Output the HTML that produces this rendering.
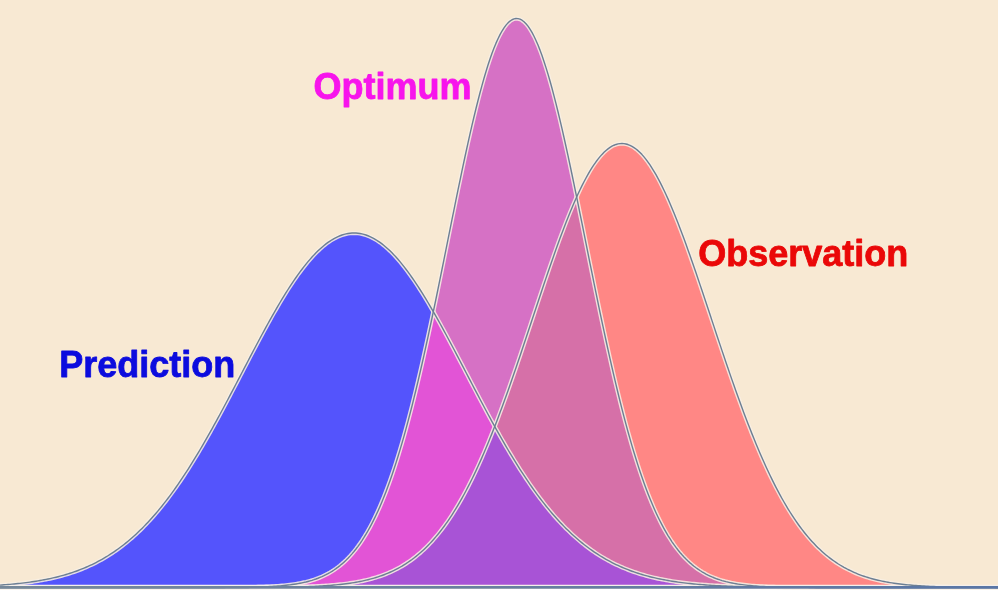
<!DOCTYPE html>
<html lang="en"><head><meta charset="utf-8"><title>Prediction, Optimum, Observation</title>
<style>html,body{margin:0;padding:0;background:#F8E9D3;}body{width:998px;height:592px;overflow:hidden}svg{display:block}</style>
</head><body>
<svg width="998" height="592" viewBox="0 0 998 592">
<rect width="998" height="592" fill="#F8E9D3"/>
<rect y="589" width="998" height="3" fill="#ffffff"/>
<polygon fill="#5454FC" points="-4.0,587.5 -4.0,585.36 -2.0,585.23 0.0,585.10 2.0,584.96 4.0,584.81 6.0,584.66 8.0,584.50 10.0,584.33 12.0,584.15 14.0,583.96 16.0,583.77 18.0,583.56 20.0,583.35 22.0,583.12 24.0,582.88 26.0,582.63 28.0,582.37 30.0,582.10 32.0,581.81 34.0,581.52 36.0,581.20 38.0,580.88 40.0,580.54 42.0,580.18 44.0,579.81 46.0,579.42 48.0,579.01 50.0,578.59 52.0,578.15 54.0,577.69 56.0,577.21 58.0,576.71 60.0,576.19 62.0,575.65 64.0,575.09 66.0,574.50 68.0,573.90 70.0,573.26 72.0,572.61 74.0,571.92 76.0,571.22 78.0,570.48 80.0,569.72 82.0,568.93 84.0,568.11 86.0,567.26 88.0,566.38 90.0,565.46 92.0,564.52 94.0,563.54 96.0,562.53 98.0,561.49 100.0,560.41 102.0,559.30 104.0,558.14 106.0,556.96 108.0,555.73 110.0,554.46 112.0,553.16 114.0,551.81 116.0,550.43 118.0,549.00 120.0,547.53 122.0,546.02 124.0,544.46 126.0,542.86 128.0,541.21 130.0,539.52 132.0,537.79 134.0,536.00 136.0,534.17 138.0,532.30 140.0,530.37 142.0,528.40 144.0,526.38 146.0,524.31 148.0,522.18 150.0,520.01 152.0,517.79 154.0,515.52 156.0,513.20 158.0,510.83 160.0,508.41 162.0,505.94 164.0,503.42 166.0,500.85 168.0,498.22 170.0,495.55 172.0,492.83 174.0,490.06 176.0,487.24 178.0,484.37 180.0,481.45 182.0,478.48 184.0,475.47 186.0,472.41 188.0,469.31 190.0,466.15 192.0,462.96 194.0,459.72 196.0,456.44 198.0,453.12 200.0,449.76 202.0,446.35 204.0,442.92 206.0,439.44 208.0,435.93 210.0,432.38 212.0,428.81 214.0,425.20 216.0,421.56 218.0,417.90 220.0,414.21 222.0,410.49 224.0,406.76 226.0,403.00 228.0,399.23 230.0,395.44 232.0,391.63 234.0,387.82 236.0,383.99 238.0,380.16 240.0,376.32 242.0,372.48 244.0,368.65 246.0,364.81 248.0,360.98 250.0,357.15 252.0,353.34 254.0,349.54 256.0,345.75 258.0,341.98 260.0,338.24 262.0,334.51 264.0,330.82 266.0,327.15 268.0,323.51 270.0,319.91 272.0,316.34 274.0,312.82 276.0,309.34 278.0,305.90 280.0,302.51 282.0,299.18 284.0,295.90 286.0,292.67 288.0,289.50 290.0,286.40 292.0,283.36 294.0,280.39 296.0,277.49 298.0,274.65 300.0,271.90 302.0,269.22 304.0,266.62 306.0,264.11 308.0,261.67 310.0,259.33 312.0,257.07 314.0,254.90 316.0,252.83 318.0,250.85 320.0,248.96 322.0,247.18 324.0,245.49 326.0,243.91 328.0,242.42 330.0,241.05 332.0,239.77 334.0,238.61 336.0,237.55 338.0,236.60 340.0,235.76 342.0,235.03 344.0,234.41 346.0,233.90 348.0,233.51 350.0,233.23 352.0,233.06 354.0,233.00 356.0,233.06 358.0,233.23 360.0,233.51 362.0,233.90 364.0,234.41 366.0,235.03 368.0,235.76 370.0,236.60 372.0,237.55 374.0,238.61 376.0,239.77 378.0,241.05 380.0,242.42 382.0,243.91 384.0,245.49 386.0,247.18 388.0,248.96 390.0,250.85 392.0,252.83 394.0,254.90 396.0,257.07 398.0,259.33 400.0,261.67 402.0,264.11 404.0,266.62 406.0,269.22 408.0,271.90 410.0,274.65 412.0,277.49 414.0,280.39 416.0,283.36 418.0,286.40 420.0,289.50 422.0,292.67 424.0,295.90 426.0,299.18 428.0,302.51 430.0,305.90 432.0,309.34 434.0,312.82 436.0,316.34 438.0,319.91 440.0,323.51 442.0,327.15 444.0,330.82 446.0,334.51 448.0,338.24 450.0,341.98 452.0,345.75 454.0,349.54 456.0,353.34 458.0,357.15 460.0,360.98 462.0,364.81 464.0,368.65 466.0,372.48 468.0,376.32 470.0,380.16 472.0,383.99 474.0,387.82 476.0,391.63 478.0,395.44 480.0,399.23 482.0,403.00 484.0,406.76 486.0,410.49 488.0,414.21 490.0,417.90 492.0,421.56 494.0,425.20 496.0,428.81 498.0,432.38 500.0,435.93 502.0,439.44 504.0,442.92 506.0,446.35 508.0,449.76 510.0,453.12 512.0,456.44 514.0,459.72 516.0,462.96 518.0,466.15 520.0,469.31 522.0,472.41 524.0,475.47 526.0,478.48 528.0,481.45 530.0,484.37 532.0,487.24 534.0,490.06 536.0,492.83 538.0,495.55 540.0,498.22 542.0,500.85 544.0,503.42 546.0,505.94 548.0,508.41 550.0,510.83 552.0,513.20 554.0,515.52 556.0,517.79 558.0,520.01 560.0,522.18 562.0,524.31 564.0,526.38 566.0,528.40 568.0,530.37 570.0,532.30 572.0,534.17 574.0,536.00 576.0,537.79 578.0,539.52 580.0,541.21 582.0,542.86 584.0,544.46 586.0,546.02 588.0,547.53 590.0,549.00 592.0,550.43 594.0,551.81 596.0,553.16 598.0,554.46 600.0,555.73 602.0,556.96 604.0,558.14 606.0,559.30 608.0,560.41 610.0,561.49 612.0,562.53 614.0,563.54 616.0,564.52 618.0,565.46 620.0,566.38 622.0,567.26 624.0,568.11 626.0,568.93 628.0,569.72 630.0,570.48 632.0,571.22 634.0,571.92 636.0,572.61 638.0,573.26 640.0,573.90 642.0,574.50 644.0,575.09 646.0,575.65 648.0,576.19 650.0,576.71 652.0,577.21 654.0,577.69 656.0,578.15 658.0,578.59 660.0,579.01 662.0,579.42 664.0,579.81 666.0,580.18 668.0,580.54 670.0,580.88 672.0,581.20 674.0,581.52 676.0,581.81 678.0,582.10 680.0,582.37 682.0,582.63 684.0,582.88 686.0,583.12 688.0,583.35 690.0,583.56 692.0,583.77 694.0,583.96 696.0,584.15 698.0,584.33 700.0,584.50 702.0,584.66 704.0,584.81 706.0,584.96 708.0,585.10 710.0,585.23 712.0,585.36 714.0,585.48 716.0,585.59 718.0,585.70 720.0,585.80 722.0,585.90 724.0,585.99 726.0,586.07 728.0,586.16 730.0,586.23 732.0,586.31 734.0,586.38 736.0,586.44 738.0,586.51 740.0,586.57 742.0,586.62 744.0,586.67 746.0,586.72 748.0,586.77 750.0,586.82 752.0,586.86 754.0,586.90 756.0,586.93 758.0,586.97 760.0,587.00 762.0,587.03 764.0,587.06 766.0,587.09 768.0,587.12 770.0,587.14 772.0,587.17 774.0,587.19 776.0,587.21 778.0,587.23 780.0,587.24 782.0,587.26 784.0,587.28 786.0,587.29 788.0,587.31 790.0,587.32 792.0,587.33 794.0,587.34 796.0,587.35 798.0,587.36 800.0,587.37 802.0,587.38 804.0,587.39 806.0,587.40 808.0,587.40 810.0,587.41 812.0,587.42 814.0,587.42 816.0,587.43 818.0,587.43 820.0,587.44 822.0,587.44 824.0,587.45 826.0,587.45 828.0,587.45 830.0,587.46 832.0,587.46 834.0,587.46 836.0,587.47 838.0,587.47 840.0,587.47 842.0,587.47 844.0,587.48 846.0,587.48 848.0,587.48 850.0,587.48 852.0,587.48 854.0,587.48 856.0,587.48 858.0,587.49 860.0,587.49 862.0,587.49 864.0,587.49 866.0,587.49 868.0,587.49 870.0,587.49 872.0,587.49 874.0,587.49 876.0,587.49 878.0,587.49 880.0,587.49 882.0,587.49 884.0,587.50 886.0,587.50 888.0,587.50 890.0,587.50 892.0,587.50 894.0,587.50 896.0,587.50 898.0,587.50 900.0,587.50 902.0,587.50 904.0,587.50 906.0,587.50 908.0,587.50 910.0,587.50 912.0,587.50 914.0,587.50 916.0,587.50 918.0,587.50 920.0,587.50 922.0,587.50 924.0,587.50 926.0,587.50 928.0,587.50 930.0,587.50 932.0,587.50 934.0,587.50 936.0,587.50 938.0,587.50 940.0,587.50 942.0,587.50 944.0,587.50 946.0,587.50 948.0,587.50 950.0,587.50 952.0,587.50 954.0,587.50 956.0,587.50 958.0,587.50 960.0,587.50 962.0,587.50 964.0,587.50 966.0,587.50 968.0,587.50 970.0,587.50 972.0,587.50 974.0,587.50 976.0,587.50 978.0,587.50 980.0,587.50 982.0,587.50 984.0,587.50 986.0,587.50 988.0,587.50 990.0,587.50 992.0,587.50 994.0,587.50 996.0,587.50 998.0,587.50 1000.0,587.50 1002.0,587.50 1002.0,587.5"/>
<polygon fill="#FF8785" points="-4.0,587.5 -4.0,587.50 -2.0,587.50 0.0,587.50 2.0,587.50 4.0,587.50 6.0,587.50 8.0,587.50 10.0,587.50 12.0,587.50 14.0,587.50 16.0,587.50 18.0,587.50 20.0,587.50 22.0,587.50 24.0,587.50 26.0,587.50 28.0,587.50 30.0,587.50 32.0,587.50 34.0,587.50 36.0,587.50 38.0,587.50 40.0,587.50 42.0,587.50 44.0,587.50 46.0,587.50 48.0,587.50 50.0,587.50 52.0,587.50 54.0,587.50 56.0,587.50 58.0,587.50 60.0,587.50 62.0,587.50 64.0,587.50 66.0,587.50 68.0,587.50 70.0,587.50 72.0,587.50 74.0,587.50 76.0,587.50 78.0,587.50 80.0,587.50 82.0,587.50 84.0,587.50 86.0,587.50 88.0,587.50 90.0,587.50 92.0,587.50 94.0,587.50 96.0,587.50 98.0,587.50 100.0,587.50 102.0,587.50 104.0,587.50 106.0,587.50 108.0,587.50 110.0,587.50 112.0,587.50 114.0,587.50 116.0,587.50 118.0,587.50 120.0,587.50 122.0,587.50 124.0,587.50 126.0,587.50 128.0,587.50 130.0,587.50 132.0,587.50 134.0,587.50 136.0,587.50 138.0,587.50 140.0,587.50 142.0,587.50 144.0,587.50 146.0,587.50 148.0,587.50 150.0,587.50 152.0,587.50 154.0,587.50 156.0,587.50 158.0,587.50 160.0,587.50 162.0,587.50 164.0,587.50 166.0,587.50 168.0,587.50 170.0,587.50 172.0,587.50 174.0,587.50 176.0,587.50 178.0,587.50 180.0,587.50 182.0,587.50 184.0,587.50 186.0,587.50 188.0,587.50 190.0,587.50 192.0,587.50 194.0,587.50 196.0,587.49 198.0,587.49 200.0,587.49 202.0,587.49 204.0,587.49 206.0,587.49 208.0,587.49 210.0,587.49 212.0,587.49 214.0,587.49 216.0,587.49 218.0,587.48 220.0,587.48 222.0,587.48 224.0,587.48 226.0,587.48 228.0,587.47 230.0,587.47 232.0,587.47 234.0,587.46 236.0,587.46 238.0,587.46 240.0,587.45 242.0,587.45 244.0,587.44 246.0,587.44 248.0,587.43 250.0,587.42 252.0,587.42 254.0,587.41 256.0,587.40 258.0,587.39 260.0,587.38 262.0,587.37 264.0,587.36 266.0,587.34 268.0,587.33 270.0,587.31 272.0,587.29 274.0,587.28 276.0,587.25 278.0,587.23 280.0,587.21 282.0,587.18 284.0,587.15 286.0,587.12 288.0,587.09 290.0,587.06 292.0,587.02 294.0,586.98 296.0,586.93 298.0,586.88 300.0,586.83 302.0,586.77 304.0,586.71 306.0,586.65 308.0,586.58 310.0,586.50 312.0,586.42 314.0,586.34 316.0,586.24 318.0,586.14 320.0,586.04 322.0,585.92 324.0,585.80 326.0,585.67 328.0,585.53 330.0,585.38 332.0,585.21 334.0,585.04 336.0,584.86 338.0,584.66 340.0,584.46 342.0,584.23 344.0,584.00 346.0,583.75 348.0,583.48 350.0,583.19 352.0,582.89 354.0,582.57 356.0,582.23 358.0,581.86 360.0,581.48 362.0,581.07 364.0,580.64 366.0,580.18 368.0,579.70 370.0,579.19 372.0,578.65 374.0,578.08 376.0,577.48 378.0,576.85 380.0,576.18 382.0,575.47 384.0,574.73 386.0,573.95 388.0,573.12 390.0,572.26 392.0,571.35 394.0,570.40 396.0,569.39 398.0,568.34 400.0,567.24 402.0,566.09 404.0,564.88 406.0,563.62 408.0,562.29 410.0,560.91 412.0,559.47 414.0,557.96 416.0,556.39 418.0,554.74 420.0,553.03 422.0,551.25 424.0,549.40 426.0,547.47 428.0,545.47 430.0,543.38 432.0,541.22 434.0,538.97 436.0,536.64 438.0,534.23 440.0,531.73 442.0,529.14 444.0,526.46 446.0,523.69 448.0,520.83 450.0,517.88 452.0,514.83 454.0,511.69 456.0,508.44 458.0,505.11 460.0,501.67 462.0,498.14 464.0,494.50 466.0,490.77 468.0,486.94 470.0,483.01 472.0,478.98 474.0,474.85 476.0,470.62 478.0,466.29 480.0,461.87 482.0,457.35 484.0,452.74 486.0,448.03 488.0,443.23 490.0,438.34 492.0,433.37 494.0,428.30 496.0,423.15 498.0,417.92 500.0,412.62 502.0,407.23 504.0,401.77 506.0,396.25 508.0,390.66 510.0,385.00 512.0,379.29 514.0,373.53 516.0,367.71 518.0,361.85 520.0,355.96 522.0,350.02 524.0,344.06 526.0,338.07 528.0,332.06 530.0,326.04 532.0,320.01 534.0,313.98 536.0,307.95 538.0,301.94 540.0,295.94 542.0,289.96 544.0,284.01 546.0,278.10 548.0,272.24 550.0,266.42 552.0,260.66 554.0,254.96 556.0,249.34 558.0,243.79 560.0,238.32 562.0,232.95 564.0,227.67 566.0,222.50 568.0,217.44 570.0,212.50 572.0,207.68 574.0,202.99 576.0,198.44 578.0,194.04 580.0,189.78 582.0,185.68 584.0,181.74 586.0,177.97 588.0,174.37 590.0,170.94 592.0,167.70 594.0,164.65 596.0,161.79 598.0,159.12 600.0,156.65 602.0,154.39 604.0,152.33 606.0,150.48 608.0,148.85 610.0,147.42 612.0,146.22 614.0,145.23 616.0,144.47 618.0,143.92 620.0,143.60 622.0,143.50 624.0,143.62 626.0,143.97 628.0,144.53 630.0,145.32 632.0,146.33 634.0,147.56 636.0,149.00 638.0,150.66 640.0,152.53 642.0,154.61 644.0,156.89 646.0,159.38 648.0,162.06 650.0,164.95 652.0,168.02 654.0,171.28 656.0,174.72 658.0,178.34 660.0,182.13 662.0,186.08 664.0,190.20 666.0,194.47 668.0,198.89 670.0,203.45 672.0,208.15 674.0,212.99 676.0,217.94 678.0,223.01 680.0,228.19 682.0,233.48 684.0,238.86 686.0,244.34 688.0,249.90 690.0,255.53 692.0,261.23 694.0,267.00 696.0,272.82 698.0,278.69 700.0,284.61 702.0,290.56 704.0,296.54 706.0,302.54 708.0,308.55 710.0,314.58 712.0,320.61 714.0,326.64 716.0,332.66 718.0,338.67 720.0,344.65 722.0,350.62 724.0,356.55 726.0,362.44 728.0,368.30 730.0,374.11 732.0,379.87 734.0,385.57 736.0,391.22 738.0,396.80 740.0,402.32 742.0,407.77 744.0,413.15 746.0,418.45 748.0,423.67 750.0,428.81 752.0,433.87 754.0,438.84 756.0,443.72 758.0,448.51 760.0,453.21 762.0,457.81 764.0,462.32 766.0,466.73 768.0,471.05 770.0,475.27 772.0,479.39 774.0,483.41 776.0,487.33 778.0,491.15 780.0,494.87 782.0,498.49 784.0,502.02 786.0,505.44 788.0,508.77 790.0,512.00 792.0,515.14 794.0,518.18 796.0,521.12 798.0,523.98 800.0,526.74 802.0,529.40 804.0,531.98 806.0,534.48 808.0,536.88 810.0,539.20 812.0,541.44 814.0,543.59 816.0,545.67 818.0,547.67 820.0,549.59 822.0,551.44 824.0,553.21 826.0,554.91 828.0,556.55 830.0,558.11 832.0,559.61 834.0,561.05 836.0,562.43 838.0,563.75 840.0,565.00 842.0,566.21 844.0,567.36 846.0,568.45 848.0,569.50 850.0,570.49 852.0,571.44 854.0,572.35 856.0,573.21 858.0,574.03 860.0,574.80 862.0,575.54 864.0,576.24 866.0,576.91 868.0,577.54 870.0,578.14 872.0,578.71 874.0,579.24 876.0,579.75 878.0,580.23 880.0,580.69 882.0,581.11 884.0,581.52 886.0,581.90 888.0,582.26 890.0,582.60 892.0,582.92 894.0,583.22 896.0,583.50 898.0,583.77 900.0,584.02 902.0,584.26 904.0,584.48 906.0,584.68 908.0,584.88 910.0,585.06 912.0,585.23 914.0,585.39 916.0,585.54 918.0,585.68 920.0,585.81 922.0,585.93 924.0,586.05 926.0,586.15 928.0,586.25 930.0,586.35 932.0,586.43 934.0,586.51 936.0,586.59 938.0,586.66 940.0,586.72 942.0,586.78 944.0,586.84 946.0,586.89 948.0,586.94 950.0,586.98 952.0,587.02 954.0,587.06 956.0,587.09 958.0,587.13 960.0,587.16 962.0,587.19 964.0,587.21 966.0,587.24 968.0,587.26 970.0,587.28 972.0,587.30 974.0,587.31 976.0,587.33 978.0,587.34 980.0,587.36 982.0,587.37 984.0,587.38 986.0,587.39 988.0,587.40 990.0,587.41 992.0,587.42 994.0,587.42 996.0,587.43 998.0,587.44 1000.0,587.44 1002.0,587.45 1002.0,587.5"/>
<polygon fill="#D671C5" points="-4.0,587.5 -4.0,587.50 -2.0,587.50 0.0,587.50 2.0,587.50 4.0,587.50 6.0,587.50 8.0,587.50 10.0,587.50 12.0,587.50 14.0,587.50 16.0,587.50 18.0,587.50 20.0,587.50 22.0,587.50 24.0,587.50 26.0,587.50 28.0,587.50 30.0,587.50 32.0,587.50 34.0,587.50 36.0,587.50 38.0,587.50 40.0,587.50 42.0,587.50 44.0,587.50 46.0,587.50 48.0,587.50 50.0,587.50 52.0,587.50 54.0,587.50 56.0,587.50 58.0,587.50 60.0,587.50 62.0,587.50 64.0,587.50 66.0,587.50 68.0,587.50 70.0,587.50 72.0,587.50 74.0,587.50 76.0,587.50 78.0,587.50 80.0,587.50 82.0,587.50 84.0,587.50 86.0,587.50 88.0,587.50 90.0,587.50 92.0,587.50 94.0,587.50 96.0,587.50 98.0,587.50 100.0,587.50 102.0,587.50 104.0,587.50 106.0,587.50 108.0,587.50 110.0,587.50 112.0,587.50 114.0,587.50 116.0,587.50 118.0,587.50 120.0,587.50 122.0,587.50 124.0,587.50 126.0,587.50 128.0,587.50 130.0,587.50 132.0,587.50 134.0,587.50 136.0,587.50 138.0,587.50 140.0,587.50 142.0,587.50 144.0,587.50 146.0,587.50 148.0,587.50 150.0,587.50 152.0,587.50 154.0,587.50 156.0,587.50 158.0,587.50 160.0,587.50 162.0,587.50 164.0,587.50 166.0,587.50 168.0,587.50 170.0,587.50 172.0,587.50 174.0,587.50 176.0,587.50 178.0,587.50 180.0,587.50 182.0,587.50 184.0,587.49 186.0,587.49 188.0,587.49 190.0,587.49 192.0,587.49 194.0,587.49 196.0,587.49 198.0,587.49 200.0,587.48 202.0,587.48 204.0,587.48 206.0,587.48 208.0,587.47 210.0,587.47 212.0,587.46 214.0,587.46 216.0,587.45 218.0,587.45 220.0,587.44 222.0,587.43 224.0,587.43 226.0,587.42 228.0,587.40 230.0,587.39 232.0,587.38 234.0,587.36 236.0,587.35 238.0,587.33 240.0,587.31 242.0,587.28 244.0,587.26 246.0,587.23 248.0,587.20 250.0,587.16 252.0,587.12 254.0,587.08 256.0,587.03 258.0,586.97 260.0,586.91 262.0,586.85 264.0,586.77 266.0,586.69 268.0,586.60 270.0,586.51 272.0,586.40 274.0,586.28 276.0,586.15 278.0,586.01 280.0,585.85 282.0,585.68 284.0,585.50 286.0,585.29 288.0,585.07 290.0,584.83 292.0,584.56 294.0,584.28 296.0,583.97 298.0,583.63 300.0,583.26 302.0,582.86 304.0,582.42 306.0,581.96 308.0,581.45 310.0,580.90 312.0,580.31 314.0,579.67 316.0,578.98 318.0,578.24 320.0,577.44 322.0,576.59 324.0,575.67 326.0,574.68 328.0,573.63 330.0,572.50 332.0,571.29 334.0,570.00 336.0,568.62 338.0,567.15 340.0,565.58 342.0,563.91 344.0,562.14 346.0,560.25 348.0,558.25 350.0,556.13 352.0,553.88 354.0,551.51 356.0,548.99 358.0,546.34 360.0,543.54 362.0,540.59 364.0,537.48 366.0,534.21 368.0,530.77 370.0,527.17 372.0,523.39 374.0,519.42 376.0,515.27 378.0,510.94 380.0,506.41 382.0,501.68 384.0,496.76 386.0,491.63 388.0,486.30 390.0,480.76 392.0,475.01 394.0,469.05 396.0,462.88 398.0,456.50 400.0,449.90 402.0,443.10 404.0,436.08 406.0,428.86 408.0,421.43 410.0,413.79 412.0,405.96 414.0,397.93 416.0,389.72 418.0,381.31 420.0,372.74 422.0,363.99 424.0,355.08 426.0,346.01 428.0,336.81 430.0,327.46 432.0,318.00 434.0,308.42 436.0,298.75 438.0,288.99 440.0,279.15 442.0,269.26 444.0,259.33 446.0,249.37 448.0,239.39 450.0,229.42 452.0,219.48 454.0,209.57 456.0,199.72 458.0,189.95 460.0,180.27 462.0,170.70 464.0,161.26 466.0,151.98 468.0,142.86 470.0,133.93 472.0,125.21 474.0,116.72 476.0,108.47 478.0,100.48 480.0,92.77 482.0,85.36 484.0,78.26 486.0,71.50 488.0,65.08 490.0,59.02 492.0,53.34 494.0,48.05 496.0,43.16 498.0,38.69 500.0,34.64 502.0,31.02 504.0,27.85 506.0,25.14 508.0,22.88 510.0,21.08 512.0,19.76 514.0,18.90 516.0,18.52 518.0,18.62 520.0,19.19 522.0,20.23 524.0,21.74 526.0,23.73 528.0,26.17 530.0,29.07 532.0,32.42 534.0,36.21 536.0,40.43 538.0,45.07 540.0,50.12 542.0,55.57 544.0,61.40 546.0,67.60 548.0,74.16 550.0,81.06 552.0,88.29 554.0,95.82 556.0,103.64 558.0,111.74 560.0,120.09 562.0,128.68 564.0,137.48 566.0,146.49 568.0,155.67 570.0,165.02 572.0,174.51 574.0,184.13 576.0,193.85 578.0,203.65 580.0,213.53 582.0,223.45 584.0,233.41 586.0,243.38 588.0,253.35 590.0,263.31 592.0,273.22 594.0,283.09 596.0,292.90 598.0,302.63 600.0,312.27 602.0,321.80 604.0,331.22 606.0,340.51 608.0,349.66 610.0,358.66 612.0,367.51 614.0,376.19 616.0,384.70 618.0,393.03 620.0,401.17 622.0,409.12 624.0,416.87 626.0,424.42 628.0,431.77 630.0,438.91 632.0,445.85 634.0,452.57 636.0,459.08 638.0,465.38 640.0,471.46 642.0,477.34 644.0,483.00 646.0,488.46 648.0,493.71 650.0,498.75 652.0,503.60 654.0,508.24 656.0,512.70 658.0,516.96 660.0,521.03 662.0,524.92 664.0,528.63 666.0,532.17 668.0,535.54 670.0,538.74 672.0,541.79 674.0,544.68 676.0,547.42 678.0,550.02 680.0,552.47 682.0,554.80 684.0,556.99 686.0,559.07 688.0,561.02 690.0,562.86 692.0,564.59 694.0,566.22 696.0,567.75 698.0,569.18 700.0,570.52 702.0,571.78 704.0,572.96 706.0,574.06 708.0,575.09 710.0,576.04 712.0,576.94 714.0,577.77 716.0,578.54 718.0,579.26 720.0,579.93 722.0,580.55 724.0,581.12 726.0,581.66 728.0,582.15 730.0,582.60 732.0,583.02 734.0,583.41 736.0,583.76 738.0,584.09 740.0,584.40 742.0,584.67 744.0,584.93 746.0,585.16 748.0,585.38 750.0,585.57 752.0,585.75 754.0,585.92 756.0,586.07 758.0,586.20 760.0,586.33 762.0,586.44 764.0,586.55 766.0,586.64 768.0,586.73 770.0,586.80 772.0,586.87 774.0,586.94 776.0,586.99 778.0,587.05 780.0,587.09 782.0,587.14 784.0,587.17 786.0,587.21 788.0,587.24 790.0,587.27 792.0,587.29 794.0,587.32 796.0,587.34 798.0,587.35 800.0,587.37 802.0,587.38 804.0,587.40 806.0,587.41 808.0,587.42 810.0,587.43 812.0,587.44 814.0,587.44 816.0,587.45 818.0,587.46 820.0,587.46 822.0,587.47 824.0,587.47 826.0,587.47 828.0,587.48 830.0,587.48 832.0,587.48 834.0,587.48 836.0,587.49 838.0,587.49 840.0,587.49 842.0,587.49 844.0,587.49 846.0,587.49 848.0,587.49 850.0,587.49 852.0,587.50 854.0,587.50 856.0,587.50 858.0,587.50 860.0,587.50 862.0,587.50 864.0,587.50 866.0,587.50 868.0,587.50 870.0,587.50 872.0,587.50 874.0,587.50 876.0,587.50 878.0,587.50 880.0,587.50 882.0,587.50 884.0,587.50 886.0,587.50 888.0,587.50 890.0,587.50 892.0,587.50 894.0,587.50 896.0,587.50 898.0,587.50 900.0,587.50 902.0,587.50 904.0,587.50 906.0,587.50 908.0,587.50 910.0,587.50 912.0,587.50 914.0,587.50 916.0,587.50 918.0,587.50 920.0,587.50 922.0,587.50 924.0,587.50 926.0,587.50 928.0,587.50 930.0,587.50 932.0,587.50 934.0,587.50 936.0,587.50 938.0,587.50 940.0,587.50 942.0,587.50 944.0,587.50 946.0,587.50 948.0,587.50 950.0,587.50 952.0,587.50 954.0,587.50 956.0,587.50 958.0,587.50 960.0,587.50 962.0,587.50 964.0,587.50 966.0,587.50 968.0,587.50 970.0,587.50 972.0,587.50 974.0,587.50 976.0,587.50 978.0,587.50 980.0,587.50 982.0,587.50 984.0,587.50 986.0,587.50 988.0,587.50 990.0,587.50 992.0,587.50 994.0,587.50 996.0,587.50 998.0,587.50 1000.0,587.50 1002.0,587.50 1002.0,587.5"/>
<polygon fill="#E254D6" points="-4.0,587.5 -4.0,587.50 -2.0,587.50 0.0,587.50 2.0,587.50 4.0,587.50 6.0,587.50 8.0,587.50 10.0,587.50 12.0,587.50 14.0,587.50 16.0,587.50 18.0,587.50 20.0,587.50 22.0,587.50 24.0,587.50 26.0,587.50 28.0,587.50 30.0,587.50 32.0,587.50 34.0,587.50 36.0,587.50 38.0,587.50 40.0,587.50 42.0,587.50 44.0,587.50 46.0,587.50 48.0,587.50 50.0,587.50 52.0,587.50 54.0,587.50 56.0,587.50 58.0,587.50 60.0,587.50 62.0,587.50 64.0,587.50 66.0,587.50 68.0,587.50 70.0,587.50 72.0,587.50 74.0,587.50 76.0,587.50 78.0,587.50 80.0,587.50 82.0,587.50 84.0,587.50 86.0,587.50 88.0,587.50 90.0,587.50 92.0,587.50 94.0,587.50 96.0,587.50 98.0,587.50 100.0,587.50 102.0,587.50 104.0,587.50 106.0,587.50 108.0,587.50 110.0,587.50 112.0,587.50 114.0,587.50 116.0,587.50 118.0,587.50 120.0,587.50 122.0,587.50 124.0,587.50 126.0,587.50 128.0,587.50 130.0,587.50 132.0,587.50 134.0,587.50 136.0,587.50 138.0,587.50 140.0,587.50 142.0,587.50 144.0,587.50 146.0,587.50 148.0,587.50 150.0,587.50 152.0,587.50 154.0,587.50 156.0,587.50 158.0,587.50 160.0,587.50 162.0,587.50 164.0,587.50 166.0,587.50 168.0,587.50 170.0,587.50 172.0,587.50 174.0,587.50 176.0,587.50 178.0,587.50 180.0,587.50 182.0,587.50 184.0,587.49 186.0,587.49 188.0,587.49 190.0,587.49 192.0,587.49 194.0,587.49 196.0,587.49 198.0,587.49 200.0,587.48 202.0,587.48 204.0,587.48 206.0,587.48 208.0,587.47 210.0,587.47 212.0,587.46 214.0,587.46 216.0,587.45 218.0,587.45 220.0,587.44 222.0,587.43 224.0,587.43 226.0,587.42 228.0,587.40 230.0,587.39 232.0,587.38 234.0,587.36 236.0,587.35 238.0,587.33 240.0,587.31 242.0,587.28 244.0,587.26 246.0,587.23 248.0,587.20 250.0,587.16 252.0,587.12 254.0,587.08 256.0,587.03 258.0,586.97 260.0,586.91 262.0,586.85 264.0,586.77 266.0,586.69 268.0,586.60 270.0,586.51 272.0,586.40 274.0,586.28 276.0,586.15 278.0,586.01 280.0,585.85 282.0,585.68 284.0,585.50 286.0,585.29 288.0,585.07 290.0,584.83 292.0,584.56 294.0,584.28 296.0,583.97 298.0,583.63 300.0,583.26 302.0,582.86 304.0,582.42 306.0,581.96 308.0,581.45 310.0,580.90 312.0,580.31 314.0,579.67 316.0,578.98 318.0,578.24 320.0,577.44 322.0,576.59 324.0,575.67 326.0,574.68 328.0,573.63 330.0,572.50 332.0,571.29 334.0,570.00 336.0,568.62 338.0,567.15 340.0,565.58 342.0,563.91 344.0,562.14 346.0,560.25 348.0,558.25 350.0,556.13 352.0,553.88 354.0,551.51 356.0,548.99 358.0,546.34 360.0,543.54 362.0,540.59 364.0,537.48 366.0,534.21 368.0,530.77 370.0,527.17 372.0,523.39 374.0,519.42 376.0,515.27 378.0,510.94 380.0,506.41 382.0,501.68 384.0,496.76 386.0,491.63 388.0,486.30 390.0,480.76 392.0,475.01 394.0,469.05 396.0,462.88 398.0,456.50 400.0,449.90 402.0,443.10 404.0,436.08 406.0,428.86 408.0,421.43 410.0,413.79 412.0,405.96 414.0,397.93 416.0,389.72 418.0,381.31 420.0,372.74 422.0,363.99 424.0,355.08 426.0,346.01 428.0,336.81 430.0,327.46 432.0,318.00 434.0,312.82 436.0,316.34 438.0,319.91 440.0,323.51 442.0,327.15 444.0,330.82 446.0,334.51 448.0,338.24 450.0,341.98 452.0,345.75 454.0,349.54 456.0,353.34 458.0,357.15 460.0,360.98 462.0,364.81 464.0,368.65 466.0,372.48 468.0,376.32 470.0,380.16 472.0,383.99 474.0,387.82 476.0,391.63 478.0,395.44 480.0,399.23 482.0,403.00 484.0,406.76 486.0,410.49 488.0,414.21 490.0,417.90 492.0,421.56 494.0,425.20 496.0,428.81 498.0,432.38 500.0,435.93 502.0,439.44 504.0,442.92 506.0,446.35 508.0,449.76 510.0,453.12 512.0,456.44 514.0,459.72 516.0,462.96 518.0,466.15 520.0,469.31 522.0,472.41 524.0,475.47 526.0,478.48 528.0,481.45 530.0,484.37 532.0,487.24 534.0,490.06 536.0,492.83 538.0,495.55 540.0,498.22 542.0,500.85 544.0,503.42 546.0,505.94 548.0,508.41 550.0,510.83 552.0,513.20 554.0,515.52 556.0,517.79 558.0,520.01 560.0,522.18 562.0,524.31 564.0,526.38 566.0,528.40 568.0,530.37 570.0,532.30 572.0,534.17 574.0,536.00 576.0,537.79 578.0,539.52 580.0,541.21 582.0,542.86 584.0,544.46 586.0,546.02 588.0,547.53 590.0,549.00 592.0,550.43 594.0,551.81 596.0,553.16 598.0,554.46 600.0,555.73 602.0,556.96 604.0,558.14 606.0,559.30 608.0,560.41 610.0,561.49 612.0,562.53 614.0,563.54 616.0,564.52 618.0,565.46 620.0,566.38 622.0,567.26 624.0,568.11 626.0,568.93 628.0,569.72 630.0,570.48 632.0,571.22 634.0,571.92 636.0,572.61 638.0,573.26 640.0,573.90 642.0,574.50 644.0,575.09 646.0,575.65 648.0,576.19 650.0,576.71 652.0,577.21 654.0,577.69 656.0,578.15 658.0,578.59 660.0,579.01 662.0,579.42 664.0,579.81 666.0,580.18 668.0,580.54 670.0,580.88 672.0,581.20 674.0,581.52 676.0,581.81 678.0,582.10 680.0,582.37 682.0,582.63 684.0,582.88 686.0,583.12 688.0,583.35 690.0,583.56 692.0,583.77 694.0,583.96 696.0,584.15 698.0,584.33 700.0,584.50 702.0,584.66 704.0,584.81 706.0,584.96 708.0,585.10 710.0,585.23 712.0,585.36 714.0,585.48 716.0,585.59 718.0,585.70 720.0,585.80 722.0,585.90 724.0,585.99 726.0,586.07 728.0,586.16 730.0,586.23 732.0,586.31 734.0,586.38 736.0,586.44 738.0,586.51 740.0,586.57 742.0,586.62 744.0,586.67 746.0,586.72 748.0,586.77 750.0,586.82 752.0,586.86 754.0,586.90 756.0,586.93 758.0,586.97 760.0,587.00 762.0,587.03 764.0,587.06 766.0,587.09 768.0,587.12 770.0,587.14 772.0,587.17 774.0,587.19 776.0,587.21 778.0,587.23 780.0,587.24 782.0,587.26 784.0,587.28 786.0,587.29 788.0,587.31 790.0,587.32 792.0,587.33 794.0,587.34 796.0,587.35 798.0,587.36 800.0,587.37 802.0,587.38 804.0,587.40 806.0,587.41 808.0,587.42 810.0,587.43 812.0,587.44 814.0,587.44 816.0,587.45 818.0,587.46 820.0,587.46 822.0,587.47 824.0,587.47 826.0,587.47 828.0,587.48 830.0,587.48 832.0,587.48 834.0,587.48 836.0,587.49 838.0,587.49 840.0,587.49 842.0,587.49 844.0,587.49 846.0,587.49 848.0,587.49 850.0,587.49 852.0,587.50 854.0,587.50 856.0,587.50 858.0,587.50 860.0,587.50 862.0,587.50 864.0,587.50 866.0,587.50 868.0,587.50 870.0,587.50 872.0,587.50 874.0,587.50 876.0,587.50 878.0,587.50 880.0,587.50 882.0,587.50 884.0,587.50 886.0,587.50 888.0,587.50 890.0,587.50 892.0,587.50 894.0,587.50 896.0,587.50 898.0,587.50 900.0,587.50 902.0,587.50 904.0,587.50 906.0,587.50 908.0,587.50 910.0,587.50 912.0,587.50 914.0,587.50 916.0,587.50 918.0,587.50 920.0,587.50 922.0,587.50 924.0,587.50 926.0,587.50 928.0,587.50 930.0,587.50 932.0,587.50 934.0,587.50 936.0,587.50 938.0,587.50 940.0,587.50 942.0,587.50 944.0,587.50 946.0,587.50 948.0,587.50 950.0,587.50 952.0,587.50 954.0,587.50 956.0,587.50 958.0,587.50 960.0,587.50 962.0,587.50 964.0,587.50 966.0,587.50 968.0,587.50 970.0,587.50 972.0,587.50 974.0,587.50 976.0,587.50 978.0,587.50 980.0,587.50 982.0,587.50 984.0,587.50 986.0,587.50 988.0,587.50 990.0,587.50 992.0,587.50 994.0,587.50 996.0,587.50 998.0,587.50 1000.0,587.50 1002.0,587.50 1002.0,587.5"/>
<polygon fill="#D670A8" points="-4.0,587.5 -4.0,587.50 -2.0,587.50 0.0,587.50 2.0,587.50 4.0,587.50 6.0,587.50 8.0,587.50 10.0,587.50 12.0,587.50 14.0,587.50 16.0,587.50 18.0,587.50 20.0,587.50 22.0,587.50 24.0,587.50 26.0,587.50 28.0,587.50 30.0,587.50 32.0,587.50 34.0,587.50 36.0,587.50 38.0,587.50 40.0,587.50 42.0,587.50 44.0,587.50 46.0,587.50 48.0,587.50 50.0,587.50 52.0,587.50 54.0,587.50 56.0,587.50 58.0,587.50 60.0,587.50 62.0,587.50 64.0,587.50 66.0,587.50 68.0,587.50 70.0,587.50 72.0,587.50 74.0,587.50 76.0,587.50 78.0,587.50 80.0,587.50 82.0,587.50 84.0,587.50 86.0,587.50 88.0,587.50 90.0,587.50 92.0,587.50 94.0,587.50 96.0,587.50 98.0,587.50 100.0,587.50 102.0,587.50 104.0,587.50 106.0,587.50 108.0,587.50 110.0,587.50 112.0,587.50 114.0,587.50 116.0,587.50 118.0,587.50 120.0,587.50 122.0,587.50 124.0,587.50 126.0,587.50 128.0,587.50 130.0,587.50 132.0,587.50 134.0,587.50 136.0,587.50 138.0,587.50 140.0,587.50 142.0,587.50 144.0,587.50 146.0,587.50 148.0,587.50 150.0,587.50 152.0,587.50 154.0,587.50 156.0,587.50 158.0,587.50 160.0,587.50 162.0,587.50 164.0,587.50 166.0,587.50 168.0,587.50 170.0,587.50 172.0,587.50 174.0,587.50 176.0,587.50 178.0,587.50 180.0,587.50 182.0,587.50 184.0,587.50 186.0,587.50 188.0,587.50 190.0,587.50 192.0,587.50 194.0,587.50 196.0,587.49 198.0,587.49 200.0,587.49 202.0,587.49 204.0,587.49 206.0,587.49 208.0,587.49 210.0,587.49 212.0,587.49 214.0,587.49 216.0,587.49 218.0,587.48 220.0,587.48 222.0,587.48 224.0,587.48 226.0,587.48 228.0,587.47 230.0,587.47 232.0,587.47 234.0,587.46 236.0,587.46 238.0,587.46 240.0,587.45 242.0,587.45 244.0,587.44 246.0,587.44 248.0,587.43 250.0,587.42 252.0,587.42 254.0,587.41 256.0,587.40 258.0,587.39 260.0,587.38 262.0,587.37 264.0,587.36 266.0,587.34 268.0,587.33 270.0,587.31 272.0,587.29 274.0,587.28 276.0,587.25 278.0,587.23 280.0,587.21 282.0,587.18 284.0,587.15 286.0,587.12 288.0,587.09 290.0,587.06 292.0,587.02 294.0,586.98 296.0,586.93 298.0,586.88 300.0,586.83 302.0,586.77 304.0,586.71 306.0,586.65 308.0,586.58 310.0,586.50 312.0,586.42 314.0,586.34 316.0,586.24 318.0,586.14 320.0,586.04 322.0,585.92 324.0,585.80 326.0,585.67 328.0,585.53 330.0,585.38 332.0,585.21 334.0,585.04 336.0,584.86 338.0,584.66 340.0,584.46 342.0,584.23 344.0,584.00 346.0,583.75 348.0,583.48 350.0,583.19 352.0,582.89 354.0,582.57 356.0,582.23 358.0,581.86 360.0,581.48 362.0,581.07 364.0,580.64 366.0,580.18 368.0,579.70 370.0,579.19 372.0,578.65 374.0,578.08 376.0,577.48 378.0,576.85 380.0,576.18 382.0,575.47 384.0,574.73 386.0,573.95 388.0,573.12 390.0,572.26 392.0,571.35 394.0,570.40 396.0,569.39 398.0,568.34 400.0,567.24 402.0,566.09 404.0,564.88 406.0,563.62 408.0,562.29 410.0,560.91 412.0,559.47 414.0,557.96 416.0,556.39 418.0,554.74 420.0,553.03 422.0,551.25 424.0,549.40 426.0,547.47 428.0,545.47 430.0,543.38 432.0,541.22 434.0,538.97 436.0,536.64 438.0,534.23 440.0,531.73 442.0,529.14 444.0,526.46 446.0,523.69 448.0,520.83 450.0,517.88 452.0,514.83 454.0,511.69 456.0,508.44 458.0,505.11 460.0,501.67 462.0,498.14 464.0,494.50 466.0,490.77 468.0,486.94 470.0,483.01 472.0,478.98 474.0,474.85 476.0,470.62 478.0,466.29 480.0,461.87 482.0,457.35 484.0,452.74 486.0,448.03 488.0,443.23 490.0,438.34 492.0,433.37 494.0,428.30 496.0,423.15 498.0,417.92 500.0,412.62 502.0,407.23 504.0,401.77 506.0,396.25 508.0,390.66 510.0,385.00 512.0,379.29 514.0,373.53 516.0,367.71 518.0,361.85 520.0,355.96 522.0,350.02 524.0,344.06 526.0,338.07 528.0,332.06 530.0,326.04 532.0,320.01 534.0,313.98 536.0,307.95 538.0,301.94 540.0,295.94 542.0,289.96 544.0,284.01 546.0,278.10 548.0,272.24 550.0,266.42 552.0,260.66 554.0,254.96 556.0,249.34 558.0,243.79 560.0,238.32 562.0,232.95 564.0,227.67 566.0,222.50 568.0,217.44 570.0,212.50 572.0,207.68 574.0,202.99 576.0,198.44 578.0,203.65 580.0,213.53 582.0,223.45 584.0,233.41 586.0,243.38 588.0,253.35 590.0,263.31 592.0,273.22 594.0,283.09 596.0,292.90 598.0,302.63 600.0,312.27 602.0,321.80 604.0,331.22 606.0,340.51 608.0,349.66 610.0,358.66 612.0,367.51 614.0,376.19 616.0,384.70 618.0,393.03 620.0,401.17 622.0,409.12 624.0,416.87 626.0,424.42 628.0,431.77 630.0,438.91 632.0,445.85 634.0,452.57 636.0,459.08 638.0,465.38 640.0,471.46 642.0,477.34 644.0,483.00 646.0,488.46 648.0,493.71 650.0,498.75 652.0,503.60 654.0,508.24 656.0,512.70 658.0,516.96 660.0,521.03 662.0,524.92 664.0,528.63 666.0,532.17 668.0,535.54 670.0,538.74 672.0,541.79 674.0,544.68 676.0,547.42 678.0,550.02 680.0,552.47 682.0,554.80 684.0,556.99 686.0,559.07 688.0,561.02 690.0,562.86 692.0,564.59 694.0,566.22 696.0,567.75 698.0,569.18 700.0,570.52 702.0,571.78 704.0,572.96 706.0,574.06 708.0,575.09 710.0,576.04 712.0,576.94 714.0,577.77 716.0,578.54 718.0,579.26 720.0,579.93 722.0,580.55 724.0,581.12 726.0,581.66 728.0,582.15 730.0,582.60 732.0,583.02 734.0,583.41 736.0,583.76 738.0,584.09 740.0,584.40 742.0,584.67 744.0,584.93 746.0,585.16 748.0,585.38 750.0,585.57 752.0,585.75 754.0,585.92 756.0,586.07 758.0,586.20 760.0,586.33 762.0,586.44 764.0,586.55 766.0,586.64 768.0,586.73 770.0,586.80 772.0,586.87 774.0,586.94 776.0,586.99 778.0,587.05 780.0,587.09 782.0,587.14 784.0,587.17 786.0,587.21 788.0,587.24 790.0,587.27 792.0,587.29 794.0,587.32 796.0,587.34 798.0,587.35 800.0,587.37 802.0,587.38 804.0,587.40 806.0,587.41 808.0,587.42 810.0,587.43 812.0,587.44 814.0,587.44 816.0,587.45 818.0,587.46 820.0,587.46 822.0,587.47 824.0,587.47 826.0,587.47 828.0,587.48 830.0,587.48 832.0,587.48 834.0,587.48 836.0,587.49 838.0,587.49 840.0,587.49 842.0,587.49 844.0,587.49 846.0,587.49 848.0,587.49 850.0,587.49 852.0,587.50 854.0,587.50 856.0,587.50 858.0,587.50 860.0,587.50 862.0,587.50 864.0,587.50 866.0,587.50 868.0,587.50 870.0,587.50 872.0,587.50 874.0,587.50 876.0,587.50 878.0,587.50 880.0,587.50 882.0,587.50 884.0,587.50 886.0,587.50 888.0,587.50 890.0,587.50 892.0,587.50 894.0,587.50 896.0,587.50 898.0,587.50 900.0,587.50 902.0,587.50 904.0,587.50 906.0,587.50 908.0,587.50 910.0,587.50 912.0,587.50 914.0,587.50 916.0,587.50 918.0,587.50 920.0,587.50 922.0,587.50 924.0,587.50 926.0,587.50 928.0,587.50 930.0,587.50 932.0,587.50 934.0,587.50 936.0,587.50 938.0,587.50 940.0,587.50 942.0,587.50 944.0,587.50 946.0,587.50 948.0,587.50 950.0,587.50 952.0,587.50 954.0,587.50 956.0,587.50 958.0,587.50 960.0,587.50 962.0,587.50 964.0,587.50 966.0,587.50 968.0,587.50 970.0,587.50 972.0,587.50 974.0,587.50 976.0,587.50 978.0,587.50 980.0,587.50 982.0,587.50 984.0,587.50 986.0,587.50 988.0,587.50 990.0,587.50 992.0,587.50 994.0,587.50 996.0,587.50 998.0,587.50 1000.0,587.50 1002.0,587.50 1002.0,587.5"/>
<polygon fill="#A853D6" points="-4.0,587.5 -4.0,587.50 -2.0,587.50 0.0,587.50 2.0,587.50 4.0,587.50 6.0,587.50 8.0,587.50 10.0,587.50 12.0,587.50 14.0,587.50 16.0,587.50 18.0,587.50 20.0,587.50 22.0,587.50 24.0,587.50 26.0,587.50 28.0,587.50 30.0,587.50 32.0,587.50 34.0,587.50 36.0,587.50 38.0,587.50 40.0,587.50 42.0,587.50 44.0,587.50 46.0,587.50 48.0,587.50 50.0,587.50 52.0,587.50 54.0,587.50 56.0,587.50 58.0,587.50 60.0,587.50 62.0,587.50 64.0,587.50 66.0,587.50 68.0,587.50 70.0,587.50 72.0,587.50 74.0,587.50 76.0,587.50 78.0,587.50 80.0,587.50 82.0,587.50 84.0,587.50 86.0,587.50 88.0,587.50 90.0,587.50 92.0,587.50 94.0,587.50 96.0,587.50 98.0,587.50 100.0,587.50 102.0,587.50 104.0,587.50 106.0,587.50 108.0,587.50 110.0,587.50 112.0,587.50 114.0,587.50 116.0,587.50 118.0,587.50 120.0,587.50 122.0,587.50 124.0,587.50 126.0,587.50 128.0,587.50 130.0,587.50 132.0,587.50 134.0,587.50 136.0,587.50 138.0,587.50 140.0,587.50 142.0,587.50 144.0,587.50 146.0,587.50 148.0,587.50 150.0,587.50 152.0,587.50 154.0,587.50 156.0,587.50 158.0,587.50 160.0,587.50 162.0,587.50 164.0,587.50 166.0,587.50 168.0,587.50 170.0,587.50 172.0,587.50 174.0,587.50 176.0,587.50 178.0,587.50 180.0,587.50 182.0,587.50 184.0,587.50 186.0,587.50 188.0,587.50 190.0,587.50 192.0,587.50 194.0,587.50 196.0,587.49 198.0,587.49 200.0,587.49 202.0,587.49 204.0,587.49 206.0,587.49 208.0,587.49 210.0,587.49 212.0,587.49 214.0,587.49 216.0,587.49 218.0,587.48 220.0,587.48 222.0,587.48 224.0,587.48 226.0,587.48 228.0,587.47 230.0,587.47 232.0,587.47 234.0,587.46 236.0,587.46 238.0,587.46 240.0,587.45 242.0,587.45 244.0,587.44 246.0,587.44 248.0,587.43 250.0,587.42 252.0,587.42 254.0,587.41 256.0,587.40 258.0,587.39 260.0,587.38 262.0,587.37 264.0,587.36 266.0,587.34 268.0,587.33 270.0,587.31 272.0,587.29 274.0,587.28 276.0,587.25 278.0,587.23 280.0,587.21 282.0,587.18 284.0,587.15 286.0,587.12 288.0,587.09 290.0,587.06 292.0,587.02 294.0,586.98 296.0,586.93 298.0,586.88 300.0,586.83 302.0,586.77 304.0,586.71 306.0,586.65 308.0,586.58 310.0,586.50 312.0,586.42 314.0,586.34 316.0,586.24 318.0,586.14 320.0,586.04 322.0,585.92 324.0,585.80 326.0,585.67 328.0,585.53 330.0,585.38 332.0,585.21 334.0,585.04 336.0,584.86 338.0,584.66 340.0,584.46 342.0,584.23 344.0,584.00 346.0,583.75 348.0,583.48 350.0,583.19 352.0,582.89 354.0,582.57 356.0,582.23 358.0,581.86 360.0,581.48 362.0,581.07 364.0,580.64 366.0,580.18 368.0,579.70 370.0,579.19 372.0,578.65 374.0,578.08 376.0,577.48 378.0,576.85 380.0,576.18 382.0,575.47 384.0,574.73 386.0,573.95 388.0,573.12 390.0,572.26 392.0,571.35 394.0,570.40 396.0,569.39 398.0,568.34 400.0,567.24 402.0,566.09 404.0,564.88 406.0,563.62 408.0,562.29 410.0,560.91 412.0,559.47 414.0,557.96 416.0,556.39 418.0,554.74 420.0,553.03 422.0,551.25 424.0,549.40 426.0,547.47 428.0,545.47 430.0,543.38 432.0,541.22 434.0,538.97 436.0,536.64 438.0,534.23 440.0,531.73 442.0,529.14 444.0,526.46 446.0,523.69 448.0,520.83 450.0,517.88 452.0,514.83 454.0,511.69 456.0,508.44 458.0,505.11 460.0,501.67 462.0,498.14 464.0,494.50 466.0,490.77 468.0,486.94 470.0,483.01 472.0,478.98 474.0,474.85 476.0,470.62 478.0,466.29 480.0,461.87 482.0,457.35 484.0,452.74 486.0,448.03 488.0,443.23 490.0,438.34 492.0,433.37 494.0,428.30 496.0,428.81 498.0,432.38 500.0,435.93 502.0,439.44 504.0,442.92 506.0,446.35 508.0,449.76 510.0,453.12 512.0,456.44 514.0,459.72 516.0,462.96 518.0,466.15 520.0,469.31 522.0,472.41 524.0,475.47 526.0,478.48 528.0,481.45 530.0,484.37 532.0,487.24 534.0,490.06 536.0,492.83 538.0,495.55 540.0,498.22 542.0,500.85 544.0,503.42 546.0,505.94 548.0,508.41 550.0,510.83 552.0,513.20 554.0,515.52 556.0,517.79 558.0,520.01 560.0,522.18 562.0,524.31 564.0,526.38 566.0,528.40 568.0,530.37 570.0,532.30 572.0,534.17 574.0,536.00 576.0,537.79 578.0,539.52 580.0,541.21 582.0,542.86 584.0,544.46 586.0,546.02 588.0,547.53 590.0,549.00 592.0,550.43 594.0,551.81 596.0,553.16 598.0,554.46 600.0,555.73 602.0,556.96 604.0,558.14 606.0,559.30 608.0,560.41 610.0,561.49 612.0,562.53 614.0,563.54 616.0,564.52 618.0,565.46 620.0,566.38 622.0,567.26 624.0,568.11 626.0,568.93 628.0,569.72 630.0,570.48 632.0,571.22 634.0,571.92 636.0,572.61 638.0,573.26 640.0,573.90 642.0,574.50 644.0,575.09 646.0,575.65 648.0,576.19 650.0,576.71 652.0,577.21 654.0,577.69 656.0,578.15 658.0,578.59 660.0,579.01 662.0,579.42 664.0,579.81 666.0,580.18 668.0,580.54 670.0,580.88 672.0,581.20 674.0,581.52 676.0,581.81 678.0,582.10 680.0,582.37 682.0,582.63 684.0,582.88 686.0,583.12 688.0,583.35 690.0,583.56 692.0,583.77 694.0,583.96 696.0,584.15 698.0,584.33 700.0,584.50 702.0,584.66 704.0,584.81 706.0,584.96 708.0,585.10 710.0,585.23 712.0,585.36 714.0,585.48 716.0,585.59 718.0,585.70 720.0,585.80 722.0,585.90 724.0,585.99 726.0,586.07 728.0,586.16 730.0,586.23 732.0,586.31 734.0,586.38 736.0,586.44 738.0,586.51 740.0,586.57 742.0,586.62 744.0,586.67 746.0,586.72 748.0,586.77 750.0,586.82 752.0,586.86 754.0,586.90 756.0,586.93 758.0,586.97 760.0,587.00 762.0,587.03 764.0,587.06 766.0,587.09 768.0,587.12 770.0,587.14 772.0,587.17 774.0,587.19 776.0,587.21 778.0,587.23 780.0,587.24 782.0,587.26 784.0,587.28 786.0,587.29 788.0,587.31 790.0,587.32 792.0,587.33 794.0,587.34 796.0,587.35 798.0,587.36 800.0,587.37 802.0,587.38 804.0,587.39 806.0,587.40 808.0,587.40 810.0,587.41 812.0,587.42 814.0,587.42 816.0,587.43 818.0,587.43 820.0,587.44 822.0,587.44 824.0,587.45 826.0,587.45 828.0,587.45 830.0,587.46 832.0,587.46 834.0,587.46 836.0,587.47 838.0,587.47 840.0,587.47 842.0,587.47 844.0,587.48 846.0,587.48 848.0,587.48 850.0,587.48 852.0,587.48 854.0,587.48 856.0,587.48 858.0,587.49 860.0,587.49 862.0,587.49 864.0,587.49 866.0,587.49 868.0,587.49 870.0,587.49 872.0,587.49 874.0,587.49 876.0,587.49 878.0,587.49 880.0,587.49 882.0,587.49 884.0,587.50 886.0,587.50 888.0,587.50 890.0,587.50 892.0,587.50 894.0,587.50 896.0,587.50 898.0,587.50 900.0,587.50 902.0,587.50 904.0,587.50 906.0,587.50 908.0,587.50 910.0,587.50 912.0,587.50 914.0,587.50 916.0,587.50 918.0,587.50 920.0,587.50 922.0,587.50 924.0,587.50 926.0,587.50 928.0,587.50 930.0,587.50 932.0,587.50 934.0,587.50 936.0,587.50 938.0,587.50 940.0,587.50 942.0,587.50 944.0,587.50 946.0,587.50 948.0,587.50 950.0,587.50 952.0,587.50 954.0,587.50 956.0,587.50 958.0,587.50 960.0,587.50 962.0,587.50 964.0,587.50 966.0,587.50 968.0,587.50 970.0,587.50 972.0,587.50 974.0,587.50 976.0,587.50 978.0,587.50 980.0,587.50 982.0,587.50 984.0,587.50 986.0,587.50 988.0,587.50 990.0,587.50 992.0,587.50 994.0,587.50 996.0,587.50 998.0,587.50 1000.0,587.50 1002.0,587.50 1002.0,587.5"/>
<polyline fill="none" stroke="#F8EFE4" stroke-opacity="0.88" stroke-width="4.2" points="-4.0,585.36 -2.0,585.23 0.0,585.10 2.0,584.96 4.0,584.81 6.0,584.66 8.0,584.50 10.0,584.33 12.0,584.15 14.0,583.96 16.0,583.77 18.0,583.56 20.0,583.35 22.0,583.12 24.0,582.88 26.0,582.63 28.0,582.37 30.0,582.10 32.0,581.81 34.0,581.52 36.0,581.20 38.0,580.88 40.0,580.54 42.0,580.18 44.0,579.81 46.0,579.42 48.0,579.01 50.0,578.59 52.0,578.15 54.0,577.69 56.0,577.21 58.0,576.71 60.0,576.19 62.0,575.65 64.0,575.09 66.0,574.50 68.0,573.90 70.0,573.26 72.0,572.61 74.0,571.92 76.0,571.22 78.0,570.48 80.0,569.72 82.0,568.93 84.0,568.11 86.0,567.26 88.0,566.38 90.0,565.46 92.0,564.52 94.0,563.54 96.0,562.53 98.0,561.49 100.0,560.41 102.0,559.30 104.0,558.14 106.0,556.96 108.0,555.73 110.0,554.46 112.0,553.16 114.0,551.81 116.0,550.43 118.0,549.00 120.0,547.53 122.0,546.02 124.0,544.46 126.0,542.86 128.0,541.21 130.0,539.52 132.0,537.79 134.0,536.00 136.0,534.17 138.0,532.30 140.0,530.37 142.0,528.40 144.0,526.38 146.0,524.31 148.0,522.18 150.0,520.01 152.0,517.79 154.0,515.52 156.0,513.20 158.0,510.83 160.0,508.41 162.0,505.94 164.0,503.42 166.0,500.85 168.0,498.22 170.0,495.55 172.0,492.83 174.0,490.06 176.0,487.24 178.0,484.37 180.0,481.45 182.0,478.48 184.0,475.47 186.0,472.41 188.0,469.31 190.0,466.15 192.0,462.96 194.0,459.72 196.0,456.44 198.0,453.12 200.0,449.76 202.0,446.35 204.0,442.92 206.0,439.44 208.0,435.93 210.0,432.38 212.0,428.81 214.0,425.20 216.0,421.56 218.0,417.90 220.0,414.21 222.0,410.49 224.0,406.76 226.0,403.00 228.0,399.23 230.0,395.44 232.0,391.63 234.0,387.82 236.0,383.99 238.0,380.16 240.0,376.32 242.0,372.48 244.0,368.65 246.0,364.81 248.0,360.98 250.0,357.15 252.0,353.34 254.0,349.54 256.0,345.75 258.0,341.98 260.0,338.24 262.0,334.51 264.0,330.82 266.0,327.15 268.0,323.51 270.0,319.91 272.0,316.34 274.0,312.82 276.0,309.34 278.0,305.90 280.0,302.51 282.0,299.18 284.0,295.90 286.0,292.67 288.0,289.50 290.0,286.40 292.0,283.36 294.0,280.39 296.0,277.49 298.0,274.65 300.0,271.90 302.0,269.22 304.0,266.62 306.0,264.11 308.0,261.67 310.0,259.33 312.0,257.07 314.0,254.90 316.0,252.83 318.0,250.85 320.0,248.96 322.0,247.18 324.0,245.49 326.0,243.91 328.0,242.42 330.0,241.05 332.0,239.77 334.0,238.61 336.0,237.55 338.0,236.60 340.0,235.76 342.0,235.03 344.0,234.41 346.0,233.90 348.0,233.51 350.0,233.23 352.0,233.06 354.0,233.00 356.0,233.06 358.0,233.23 360.0,233.51 362.0,233.90 364.0,234.41 366.0,235.03 368.0,235.76 370.0,236.60 372.0,237.55 374.0,238.61 376.0,239.77 378.0,241.05 380.0,242.42 382.0,243.91 384.0,245.49 386.0,247.18 388.0,248.96 390.0,250.85 392.0,252.83 394.0,254.90 396.0,257.07 398.0,259.33 400.0,261.67 402.0,264.11 404.0,266.62 406.0,269.22 408.0,271.90 410.0,274.65 412.0,277.49 414.0,280.39 416.0,283.36 418.0,286.40 420.0,289.50 422.0,292.67 424.0,295.90 426.0,299.18 428.0,302.51 430.0,305.90 432.0,309.34 434.0,312.82 436.0,316.34 438.0,319.91 440.0,323.51 442.0,327.15 444.0,330.82 446.0,334.51 448.0,338.24 450.0,341.98 452.0,345.75 454.0,349.54 456.0,353.34 458.0,357.15 460.0,360.98 462.0,364.81 464.0,368.65 466.0,372.48 468.0,376.32 470.0,380.16 472.0,383.99 474.0,387.82 476.0,391.63 478.0,395.44 480.0,399.23 482.0,403.00 484.0,406.76 486.0,410.49 488.0,414.21 490.0,417.90 492.0,421.56 494.0,425.20 496.0,428.81 498.0,432.38 500.0,435.93 502.0,439.44 504.0,442.92 506.0,446.35 508.0,449.76 510.0,453.12 512.0,456.44 514.0,459.72 516.0,462.96 518.0,466.15 520.0,469.31 522.0,472.41 524.0,475.47 526.0,478.48 528.0,481.45 530.0,484.37 532.0,487.24 534.0,490.06 536.0,492.83 538.0,495.55 540.0,498.22 542.0,500.85 544.0,503.42 546.0,505.94 548.0,508.41 550.0,510.83 552.0,513.20 554.0,515.52 556.0,517.79 558.0,520.01 560.0,522.18 562.0,524.31 564.0,526.38 566.0,528.40 568.0,530.37 570.0,532.30 572.0,534.17 574.0,536.00 576.0,537.79 578.0,539.52 580.0,541.21 582.0,542.86 584.0,544.46 586.0,546.02 588.0,547.53 590.0,549.00 592.0,550.43 594.0,551.81 596.0,553.16 598.0,554.46 600.0,555.73 602.0,556.96 604.0,558.14 606.0,559.30 608.0,560.41 610.0,561.49 612.0,562.53 614.0,563.54 616.0,564.52 618.0,565.46 620.0,566.38 622.0,567.26 624.0,568.11 626.0,568.93 628.0,569.72 630.0,570.48 632.0,571.22 634.0,571.92 636.0,572.61 638.0,573.26 640.0,573.90 642.0,574.50 644.0,575.09 646.0,575.65 648.0,576.19 650.0,576.71 652.0,577.21 654.0,577.69 656.0,578.15 658.0,578.59 660.0,579.01 662.0,579.42 664.0,579.81 666.0,580.18 668.0,580.54 670.0,580.88 672.0,581.20 674.0,581.52 676.0,581.81 678.0,582.10 680.0,582.37 682.0,582.63 684.0,582.88 686.0,583.12 688.0,583.35 690.0,583.56 692.0,583.77 694.0,583.96 696.0,584.15 698.0,584.33 700.0,584.50 702.0,584.66 704.0,584.81 706.0,584.96 708.0,585.10 710.0,585.23 712.0,585.36 714.0,585.48 716.0,585.59 718.0,585.70 720.0,585.80 722.0,585.90 724.0,585.99 726.0,586.07 728.0,586.16 730.0,586.23 732.0,586.31 734.0,586.38 736.0,586.44 738.0,586.51 740.0,586.57 742.0,586.62 744.0,586.67 746.0,586.72 748.0,586.77 750.0,586.82 752.0,586.86 754.0,586.90 756.0,586.93 758.0,586.97 760.0,587.00 762.0,587.03 764.0,587.06 766.0,587.09 768.0,587.12 770.0,587.14 772.0,587.17 774.0,587.19 776.0,587.21 778.0,587.23 780.0,587.24 782.0,587.26 784.0,587.28 786.0,587.29 788.0,587.31 790.0,587.32 792.0,587.33 794.0,587.34 796.0,587.35 798.0,587.36 800.0,587.37 802.0,587.38 804.0,587.39 806.0,587.40 808.0,587.40 810.0,587.41 812.0,587.42 814.0,587.42 816.0,587.43 818.0,587.43 820.0,587.44 822.0,587.44 824.0,587.45 826.0,587.45 828.0,587.45 830.0,587.46 832.0,587.46 834.0,587.46 836.0,587.47 838.0,587.47 840.0,587.47 842.0,587.47 844.0,587.48 846.0,587.48 848.0,587.48 850.0,587.48 852.0,587.48 854.0,587.48 856.0,587.48 858.0,587.49 860.0,587.49 862.0,587.49 864.0,587.49 866.0,587.49 868.0,587.49 870.0,587.49 872.0,587.49 874.0,587.49 876.0,587.49 878.0,587.49 880.0,587.49 882.0,587.49 884.0,587.50 886.0,587.50 888.0,587.50 890.0,587.50 892.0,587.50 894.0,587.50 896.0,587.50 898.0,587.50 900.0,587.50 902.0,587.50 904.0,587.50 906.0,587.50 908.0,587.50 910.0,587.50 912.0,587.50 914.0,587.50 916.0,587.50 918.0,587.50 920.0,587.50 922.0,587.50 924.0,587.50 926.0,587.50 928.0,587.50 930.0,587.50 932.0,587.50 934.0,587.50 936.0,587.50 938.0,587.50 940.0,587.50 942.0,587.50 944.0,587.50 946.0,587.50 948.0,587.50 950.0,587.50 952.0,587.50 954.0,587.50 956.0,587.50 958.0,587.50 960.0,587.50 962.0,587.50 964.0,587.50 966.0,587.50 968.0,587.50 970.0,587.50 972.0,587.50 974.0,587.50 976.0,587.50 978.0,587.50 980.0,587.50 982.0,587.50 984.0,587.50 986.0,587.50 988.0,587.50 990.0,587.50 992.0,587.50 994.0,587.50 996.0,587.50 998.0,587.50 1000.0,587.50 1002.0,587.50"/>
<polyline fill="none" stroke="#F8EFE4" stroke-opacity="0.88" stroke-width="4.2" points="-4.0,587.50 -2.0,587.50 0.0,587.50 2.0,587.50 4.0,587.50 6.0,587.50 8.0,587.50 10.0,587.50 12.0,587.50 14.0,587.50 16.0,587.50 18.0,587.50 20.0,587.50 22.0,587.50 24.0,587.50 26.0,587.50 28.0,587.50 30.0,587.50 32.0,587.50 34.0,587.50 36.0,587.50 38.0,587.50 40.0,587.50 42.0,587.50 44.0,587.50 46.0,587.50 48.0,587.50 50.0,587.50 52.0,587.50 54.0,587.50 56.0,587.50 58.0,587.50 60.0,587.50 62.0,587.50 64.0,587.50 66.0,587.50 68.0,587.50 70.0,587.50 72.0,587.50 74.0,587.50 76.0,587.50 78.0,587.50 80.0,587.50 82.0,587.50 84.0,587.50 86.0,587.50 88.0,587.50 90.0,587.50 92.0,587.50 94.0,587.50 96.0,587.50 98.0,587.50 100.0,587.50 102.0,587.50 104.0,587.50 106.0,587.50 108.0,587.50 110.0,587.50 112.0,587.50 114.0,587.50 116.0,587.50 118.0,587.50 120.0,587.50 122.0,587.50 124.0,587.50 126.0,587.50 128.0,587.50 130.0,587.50 132.0,587.50 134.0,587.50 136.0,587.50 138.0,587.50 140.0,587.50 142.0,587.50 144.0,587.50 146.0,587.50 148.0,587.50 150.0,587.50 152.0,587.50 154.0,587.50 156.0,587.50 158.0,587.50 160.0,587.50 162.0,587.50 164.0,587.50 166.0,587.50 168.0,587.50 170.0,587.50 172.0,587.50 174.0,587.50 176.0,587.50 178.0,587.50 180.0,587.50 182.0,587.50 184.0,587.50 186.0,587.50 188.0,587.50 190.0,587.50 192.0,587.50 194.0,587.50 196.0,587.49 198.0,587.49 200.0,587.49 202.0,587.49 204.0,587.49 206.0,587.49 208.0,587.49 210.0,587.49 212.0,587.49 214.0,587.49 216.0,587.49 218.0,587.48 220.0,587.48 222.0,587.48 224.0,587.48 226.0,587.48 228.0,587.47 230.0,587.47 232.0,587.47 234.0,587.46 236.0,587.46 238.0,587.46 240.0,587.45 242.0,587.45 244.0,587.44 246.0,587.44 248.0,587.43 250.0,587.42 252.0,587.42 254.0,587.41 256.0,587.40 258.0,587.39 260.0,587.38 262.0,587.37 264.0,587.36 266.0,587.34 268.0,587.33 270.0,587.31 272.0,587.29 274.0,587.28 276.0,587.25 278.0,587.23 280.0,587.21 282.0,587.18 284.0,587.15 286.0,587.12 288.0,587.09 290.0,587.06 292.0,587.02 294.0,586.98 296.0,586.93 298.0,586.88 300.0,586.83 302.0,586.77 304.0,586.71 306.0,586.65 308.0,586.58 310.0,586.50 312.0,586.42 314.0,586.34 316.0,586.24 318.0,586.14 320.0,586.04 322.0,585.92 324.0,585.80 326.0,585.67 328.0,585.53 330.0,585.38 332.0,585.21 334.0,585.04 336.0,584.86 338.0,584.66 340.0,584.46 342.0,584.23 344.0,584.00 346.0,583.75 348.0,583.48 350.0,583.19 352.0,582.89 354.0,582.57 356.0,582.23 358.0,581.86 360.0,581.48 362.0,581.07 364.0,580.64 366.0,580.18 368.0,579.70 370.0,579.19 372.0,578.65 374.0,578.08 376.0,577.48 378.0,576.85 380.0,576.18 382.0,575.47 384.0,574.73 386.0,573.95 388.0,573.12 390.0,572.26 392.0,571.35 394.0,570.40 396.0,569.39 398.0,568.34 400.0,567.24 402.0,566.09 404.0,564.88 406.0,563.62 408.0,562.29 410.0,560.91 412.0,559.47 414.0,557.96 416.0,556.39 418.0,554.74 420.0,553.03 422.0,551.25 424.0,549.40 426.0,547.47 428.0,545.47 430.0,543.38 432.0,541.22 434.0,538.97 436.0,536.64 438.0,534.23 440.0,531.73 442.0,529.14 444.0,526.46 446.0,523.69 448.0,520.83 450.0,517.88 452.0,514.83 454.0,511.69 456.0,508.44 458.0,505.11 460.0,501.67 462.0,498.14 464.0,494.50 466.0,490.77 468.0,486.94 470.0,483.01 472.0,478.98 474.0,474.85 476.0,470.62 478.0,466.29 480.0,461.87 482.0,457.35 484.0,452.74 486.0,448.03 488.0,443.23 490.0,438.34 492.0,433.37 494.0,428.30 496.0,423.15 498.0,417.92 500.0,412.62 502.0,407.23 504.0,401.77 506.0,396.25 508.0,390.66 510.0,385.00 512.0,379.29 514.0,373.53 516.0,367.71 518.0,361.85 520.0,355.96 522.0,350.02 524.0,344.06 526.0,338.07 528.0,332.06 530.0,326.04 532.0,320.01 534.0,313.98 536.0,307.95 538.0,301.94 540.0,295.94 542.0,289.96 544.0,284.01 546.0,278.10 548.0,272.24 550.0,266.42 552.0,260.66 554.0,254.96 556.0,249.34 558.0,243.79 560.0,238.32 562.0,232.95 564.0,227.67 566.0,222.50 568.0,217.44 570.0,212.50 572.0,207.68 574.0,202.99 576.0,198.44 578.0,194.04 580.0,189.78 582.0,185.68 584.0,181.74 586.0,177.97 588.0,174.37 590.0,170.94 592.0,167.70 594.0,164.65 596.0,161.79 598.0,159.12 600.0,156.65 602.0,154.39 604.0,152.33 606.0,150.48 608.0,148.85 610.0,147.42 612.0,146.22 614.0,145.23 616.0,144.47 618.0,143.92 620.0,143.60 622.0,143.50 624.0,143.62 626.0,143.97 628.0,144.53 630.0,145.32 632.0,146.33 634.0,147.56 636.0,149.00 638.0,150.66 640.0,152.53 642.0,154.61 644.0,156.89 646.0,159.38 648.0,162.06 650.0,164.95 652.0,168.02 654.0,171.28 656.0,174.72 658.0,178.34 660.0,182.13 662.0,186.08 664.0,190.20 666.0,194.47 668.0,198.89 670.0,203.45 672.0,208.15 674.0,212.99 676.0,217.94 678.0,223.01 680.0,228.19 682.0,233.48 684.0,238.86 686.0,244.34 688.0,249.90 690.0,255.53 692.0,261.23 694.0,267.00 696.0,272.82 698.0,278.69 700.0,284.61 702.0,290.56 704.0,296.54 706.0,302.54 708.0,308.55 710.0,314.58 712.0,320.61 714.0,326.64 716.0,332.66 718.0,338.67 720.0,344.65 722.0,350.62 724.0,356.55 726.0,362.44 728.0,368.30 730.0,374.11 732.0,379.87 734.0,385.57 736.0,391.22 738.0,396.80 740.0,402.32 742.0,407.77 744.0,413.15 746.0,418.45 748.0,423.67 750.0,428.81 752.0,433.87 754.0,438.84 756.0,443.72 758.0,448.51 760.0,453.21 762.0,457.81 764.0,462.32 766.0,466.73 768.0,471.05 770.0,475.27 772.0,479.39 774.0,483.41 776.0,487.33 778.0,491.15 780.0,494.87 782.0,498.49 784.0,502.02 786.0,505.44 788.0,508.77 790.0,512.00 792.0,515.14 794.0,518.18 796.0,521.12 798.0,523.98 800.0,526.74 802.0,529.40 804.0,531.98 806.0,534.48 808.0,536.88 810.0,539.20 812.0,541.44 814.0,543.59 816.0,545.67 818.0,547.67 820.0,549.59 822.0,551.44 824.0,553.21 826.0,554.91 828.0,556.55 830.0,558.11 832.0,559.61 834.0,561.05 836.0,562.43 838.0,563.75 840.0,565.00 842.0,566.21 844.0,567.36 846.0,568.45 848.0,569.50 850.0,570.49 852.0,571.44 854.0,572.35 856.0,573.21 858.0,574.03 860.0,574.80 862.0,575.54 864.0,576.24 866.0,576.91 868.0,577.54 870.0,578.14 872.0,578.71 874.0,579.24 876.0,579.75 878.0,580.23 880.0,580.69 882.0,581.11 884.0,581.52 886.0,581.90 888.0,582.26 890.0,582.60 892.0,582.92 894.0,583.22 896.0,583.50 898.0,583.77 900.0,584.02 902.0,584.26 904.0,584.48 906.0,584.68 908.0,584.88 910.0,585.06 912.0,585.23 914.0,585.39 916.0,585.54 918.0,585.68 920.0,585.81 922.0,585.93 924.0,586.05 926.0,586.15 928.0,586.25 930.0,586.35 932.0,586.43 934.0,586.51 936.0,586.59 938.0,586.66 940.0,586.72 942.0,586.78 944.0,586.84 946.0,586.89 948.0,586.94 950.0,586.98 952.0,587.02 954.0,587.06 956.0,587.09 958.0,587.13 960.0,587.16 962.0,587.19 964.0,587.21 966.0,587.24 968.0,587.26 970.0,587.28 972.0,587.30 974.0,587.31 976.0,587.33 978.0,587.34 980.0,587.36 982.0,587.37 984.0,587.38 986.0,587.39 988.0,587.40 990.0,587.41 992.0,587.42 994.0,587.42 996.0,587.43 998.0,587.44 1000.0,587.44 1002.0,587.45"/>
<polyline fill="none" stroke="#F8EFE4" stroke-opacity="0.88" stroke-width="4.2" points="-4.0,587.50 -2.0,587.50 0.0,587.50 2.0,587.50 4.0,587.50 6.0,587.50 8.0,587.50 10.0,587.50 12.0,587.50 14.0,587.50 16.0,587.50 18.0,587.50 20.0,587.50 22.0,587.50 24.0,587.50 26.0,587.50 28.0,587.50 30.0,587.50 32.0,587.50 34.0,587.50 36.0,587.50 38.0,587.50 40.0,587.50 42.0,587.50 44.0,587.50 46.0,587.50 48.0,587.50 50.0,587.50 52.0,587.50 54.0,587.50 56.0,587.50 58.0,587.50 60.0,587.50 62.0,587.50 64.0,587.50 66.0,587.50 68.0,587.50 70.0,587.50 72.0,587.50 74.0,587.50 76.0,587.50 78.0,587.50 80.0,587.50 82.0,587.50 84.0,587.50 86.0,587.50 88.0,587.50 90.0,587.50 92.0,587.50 94.0,587.50 96.0,587.50 98.0,587.50 100.0,587.50 102.0,587.50 104.0,587.50 106.0,587.50 108.0,587.50 110.0,587.50 112.0,587.50 114.0,587.50 116.0,587.50 118.0,587.50 120.0,587.50 122.0,587.50 124.0,587.50 126.0,587.50 128.0,587.50 130.0,587.50 132.0,587.50 134.0,587.50 136.0,587.50 138.0,587.50 140.0,587.50 142.0,587.50 144.0,587.50 146.0,587.50 148.0,587.50 150.0,587.50 152.0,587.50 154.0,587.50 156.0,587.50 158.0,587.50 160.0,587.50 162.0,587.50 164.0,587.50 166.0,587.50 168.0,587.50 170.0,587.50 172.0,587.50 174.0,587.50 176.0,587.50 178.0,587.50 180.0,587.50 182.0,587.50 184.0,587.49 186.0,587.49 188.0,587.49 190.0,587.49 192.0,587.49 194.0,587.49 196.0,587.49 198.0,587.49 200.0,587.48 202.0,587.48 204.0,587.48 206.0,587.48 208.0,587.47 210.0,587.47 212.0,587.46 214.0,587.46 216.0,587.45 218.0,587.45 220.0,587.44 222.0,587.43 224.0,587.43 226.0,587.42 228.0,587.40 230.0,587.39 232.0,587.38 234.0,587.36 236.0,587.35 238.0,587.33 240.0,587.31 242.0,587.28 244.0,587.26 246.0,587.23 248.0,587.20 250.0,587.16 252.0,587.12 254.0,587.08 256.0,587.03 258.0,586.97 260.0,586.91 262.0,586.85 264.0,586.77 266.0,586.69 268.0,586.60 270.0,586.51 272.0,586.40 274.0,586.28 276.0,586.15 278.0,586.01 280.0,585.85 282.0,585.68 284.0,585.50 286.0,585.29 288.0,585.07 290.0,584.83 292.0,584.56 294.0,584.28 296.0,583.97 298.0,583.63 300.0,583.26 302.0,582.86 304.0,582.42 306.0,581.96 308.0,581.45 310.0,580.90 312.0,580.31 314.0,579.67 316.0,578.98 318.0,578.24 320.0,577.44 322.0,576.59 324.0,575.67 326.0,574.68 328.0,573.63 330.0,572.50 332.0,571.29 334.0,570.00 336.0,568.62 338.0,567.15 340.0,565.58 342.0,563.91 344.0,562.14 346.0,560.25 348.0,558.25 350.0,556.13 352.0,553.88 354.0,551.51 356.0,548.99 358.0,546.34 360.0,543.54 362.0,540.59 364.0,537.48 366.0,534.21 368.0,530.77 370.0,527.17 372.0,523.39 374.0,519.42 376.0,515.27 378.0,510.94 380.0,506.41 382.0,501.68 384.0,496.76 386.0,491.63 388.0,486.30 390.0,480.76 392.0,475.01 394.0,469.05 396.0,462.88 398.0,456.50 400.0,449.90 402.0,443.10 404.0,436.08 406.0,428.86 408.0,421.43 410.0,413.79 412.0,405.96 414.0,397.93 416.0,389.72 418.0,381.31 420.0,372.74 422.0,363.99 424.0,355.08 426.0,346.01 428.0,336.81 430.0,327.46 432.0,318.00 434.0,308.42 436.0,298.75 438.0,288.99 440.0,279.15 442.0,269.26 444.0,259.33 446.0,249.37 448.0,239.39 450.0,229.42 452.0,219.48 454.0,209.57 456.0,199.72 458.0,189.95 460.0,180.27 462.0,170.70 464.0,161.26 466.0,151.98 468.0,142.86 470.0,133.93 472.0,125.21 474.0,116.72 476.0,108.47 478.0,100.48 480.0,92.77 482.0,85.36 484.0,78.26 486.0,71.50 488.0,65.08 490.0,59.02 492.0,53.34 494.0,48.05 496.0,43.16 498.0,38.69 500.0,34.64 502.0,31.02 504.0,27.85 506.0,25.14 508.0,22.88 510.0,21.08 512.0,19.76 514.0,18.90 516.0,18.52 518.0,18.62 520.0,19.19 522.0,20.23 524.0,21.74 526.0,23.73 528.0,26.17 530.0,29.07 532.0,32.42 534.0,36.21 536.0,40.43 538.0,45.07 540.0,50.12 542.0,55.57 544.0,61.40 546.0,67.60 548.0,74.16 550.0,81.06 552.0,88.29 554.0,95.82 556.0,103.64 558.0,111.74 560.0,120.09 562.0,128.68 564.0,137.48 566.0,146.49 568.0,155.67 570.0,165.02 572.0,174.51 574.0,184.13 576.0,193.85 578.0,203.65 580.0,213.53 582.0,223.45 584.0,233.41 586.0,243.38 588.0,253.35 590.0,263.31 592.0,273.22 594.0,283.09 596.0,292.90 598.0,302.63 600.0,312.27 602.0,321.80 604.0,331.22 606.0,340.51 608.0,349.66 610.0,358.66 612.0,367.51 614.0,376.19 616.0,384.70 618.0,393.03 620.0,401.17 622.0,409.12 624.0,416.87 626.0,424.42 628.0,431.77 630.0,438.91 632.0,445.85 634.0,452.57 636.0,459.08 638.0,465.38 640.0,471.46 642.0,477.34 644.0,483.00 646.0,488.46 648.0,493.71 650.0,498.75 652.0,503.60 654.0,508.24 656.0,512.70 658.0,516.96 660.0,521.03 662.0,524.92 664.0,528.63 666.0,532.17 668.0,535.54 670.0,538.74 672.0,541.79 674.0,544.68 676.0,547.42 678.0,550.02 680.0,552.47 682.0,554.80 684.0,556.99 686.0,559.07 688.0,561.02 690.0,562.86 692.0,564.59 694.0,566.22 696.0,567.75 698.0,569.18 700.0,570.52 702.0,571.78 704.0,572.96 706.0,574.06 708.0,575.09 710.0,576.04 712.0,576.94 714.0,577.77 716.0,578.54 718.0,579.26 720.0,579.93 722.0,580.55 724.0,581.12 726.0,581.66 728.0,582.15 730.0,582.60 732.0,583.02 734.0,583.41 736.0,583.76 738.0,584.09 740.0,584.40 742.0,584.67 744.0,584.93 746.0,585.16 748.0,585.38 750.0,585.57 752.0,585.75 754.0,585.92 756.0,586.07 758.0,586.20 760.0,586.33 762.0,586.44 764.0,586.55 766.0,586.64 768.0,586.73 770.0,586.80 772.0,586.87 774.0,586.94 776.0,586.99 778.0,587.05 780.0,587.09 782.0,587.14 784.0,587.17 786.0,587.21 788.0,587.24 790.0,587.27 792.0,587.29 794.0,587.32 796.0,587.34 798.0,587.35 800.0,587.37 802.0,587.38 804.0,587.40 806.0,587.41 808.0,587.42 810.0,587.43 812.0,587.44 814.0,587.44 816.0,587.45 818.0,587.46 820.0,587.46 822.0,587.47 824.0,587.47 826.0,587.47 828.0,587.48 830.0,587.48 832.0,587.48 834.0,587.48 836.0,587.49 838.0,587.49 840.0,587.49 842.0,587.49 844.0,587.49 846.0,587.49 848.0,587.49 850.0,587.49 852.0,587.50 854.0,587.50 856.0,587.50 858.0,587.50 860.0,587.50 862.0,587.50 864.0,587.50 866.0,587.50 868.0,587.50 870.0,587.50 872.0,587.50 874.0,587.50 876.0,587.50 878.0,587.50 880.0,587.50 882.0,587.50 884.0,587.50 886.0,587.50 888.0,587.50 890.0,587.50 892.0,587.50 894.0,587.50 896.0,587.50 898.0,587.50 900.0,587.50 902.0,587.50 904.0,587.50 906.0,587.50 908.0,587.50 910.0,587.50 912.0,587.50 914.0,587.50 916.0,587.50 918.0,587.50 920.0,587.50 922.0,587.50 924.0,587.50 926.0,587.50 928.0,587.50 930.0,587.50 932.0,587.50 934.0,587.50 936.0,587.50 938.0,587.50 940.0,587.50 942.0,587.50 944.0,587.50 946.0,587.50 948.0,587.50 950.0,587.50 952.0,587.50 954.0,587.50 956.0,587.50 958.0,587.50 960.0,587.50 962.0,587.50 964.0,587.50 966.0,587.50 968.0,587.50 970.0,587.50 972.0,587.50 974.0,587.50 976.0,587.50 978.0,587.50 980.0,587.50 982.0,587.50 984.0,587.50 986.0,587.50 988.0,587.50 990.0,587.50 992.0,587.50 994.0,587.50 996.0,587.50 998.0,587.50 1000.0,587.50 1002.0,587.50"/>
<line x1="0" x2="998" y1="585.4" y2="585.4" stroke="#F6F0EA" stroke-width="1.4"/>
<polyline fill="none" stroke="#6C7F93" stroke-width="1.4" stroke-linejoin="round" points="-4.0,585.36 -2.0,585.23 0.0,585.10 2.0,584.96 4.0,584.81 6.0,584.66 8.0,584.50 10.0,584.33 12.0,584.15 14.0,583.96 16.0,583.77 18.0,583.56 20.0,583.35 22.0,583.12 24.0,582.88 26.0,582.63 28.0,582.37 30.0,582.10 32.0,581.81 34.0,581.52 36.0,581.20 38.0,580.88 40.0,580.54 42.0,580.18 44.0,579.81 46.0,579.42 48.0,579.01 50.0,578.59 52.0,578.15 54.0,577.69 56.0,577.21 58.0,576.71 60.0,576.19 62.0,575.65 64.0,575.09 66.0,574.50 68.0,573.90 70.0,573.26 72.0,572.61 74.0,571.92 76.0,571.22 78.0,570.48 80.0,569.72 82.0,568.93 84.0,568.11 86.0,567.26 88.0,566.38 90.0,565.46 92.0,564.52 94.0,563.54 96.0,562.53 98.0,561.49 100.0,560.41 102.0,559.30 104.0,558.14 106.0,556.96 108.0,555.73 110.0,554.46 112.0,553.16 114.0,551.81 116.0,550.43 118.0,549.00 120.0,547.53 122.0,546.02 124.0,544.46 126.0,542.86 128.0,541.21 130.0,539.52 132.0,537.79 134.0,536.00 136.0,534.17 138.0,532.30 140.0,530.37 142.0,528.40 144.0,526.38 146.0,524.31 148.0,522.18 150.0,520.01 152.0,517.79 154.0,515.52 156.0,513.20 158.0,510.83 160.0,508.41 162.0,505.94 164.0,503.42 166.0,500.85 168.0,498.22 170.0,495.55 172.0,492.83 174.0,490.06 176.0,487.24 178.0,484.37 180.0,481.45 182.0,478.48 184.0,475.47 186.0,472.41 188.0,469.31 190.0,466.15 192.0,462.96 194.0,459.72 196.0,456.44 198.0,453.12 200.0,449.76 202.0,446.35 204.0,442.92 206.0,439.44 208.0,435.93 210.0,432.38 212.0,428.81 214.0,425.20 216.0,421.56 218.0,417.90 220.0,414.21 222.0,410.49 224.0,406.76 226.0,403.00 228.0,399.23 230.0,395.44 232.0,391.63 234.0,387.82 236.0,383.99 238.0,380.16 240.0,376.32 242.0,372.48 244.0,368.65 246.0,364.81 248.0,360.98 250.0,357.15 252.0,353.34 254.0,349.54 256.0,345.75 258.0,341.98 260.0,338.24 262.0,334.51 264.0,330.82 266.0,327.15 268.0,323.51 270.0,319.91 272.0,316.34 274.0,312.82 276.0,309.34 278.0,305.90 280.0,302.51 282.0,299.18 284.0,295.90 286.0,292.67 288.0,289.50 290.0,286.40 292.0,283.36 294.0,280.39 296.0,277.49 298.0,274.65 300.0,271.90 302.0,269.22 304.0,266.62 306.0,264.11 308.0,261.67 310.0,259.33 312.0,257.07 314.0,254.90 316.0,252.83 318.0,250.85 320.0,248.96 322.0,247.18 324.0,245.49 326.0,243.91 328.0,242.42 330.0,241.05 332.0,239.77 334.0,238.61 336.0,237.55 338.0,236.60 340.0,235.76 342.0,235.03 344.0,234.41 346.0,233.90 348.0,233.51 350.0,233.23 352.0,233.06 354.0,233.00 356.0,233.06 358.0,233.23 360.0,233.51 362.0,233.90 364.0,234.41 366.0,235.03 368.0,235.76 370.0,236.60 372.0,237.55 374.0,238.61 376.0,239.77 378.0,241.05 380.0,242.42 382.0,243.91 384.0,245.49 386.0,247.18 388.0,248.96 390.0,250.85 392.0,252.83 394.0,254.90 396.0,257.07 398.0,259.33 400.0,261.67 402.0,264.11 404.0,266.62 406.0,269.22 408.0,271.90 410.0,274.65 412.0,277.49 414.0,280.39 416.0,283.36 418.0,286.40 420.0,289.50 422.0,292.67 424.0,295.90 426.0,299.18 428.0,302.51 430.0,305.90 432.0,309.34 434.0,312.82 436.0,316.34 438.0,319.91 440.0,323.51 442.0,327.15 444.0,330.82 446.0,334.51 448.0,338.24 450.0,341.98 452.0,345.75 454.0,349.54 456.0,353.34 458.0,357.15 460.0,360.98 462.0,364.81 464.0,368.65 466.0,372.48 468.0,376.32 470.0,380.16 472.0,383.99 474.0,387.82 476.0,391.63 478.0,395.44 480.0,399.23 482.0,403.00 484.0,406.76 486.0,410.49 488.0,414.21 490.0,417.90 492.0,421.56 494.0,425.20 496.0,428.81 498.0,432.38 500.0,435.93 502.0,439.44 504.0,442.92 506.0,446.35 508.0,449.76 510.0,453.12 512.0,456.44 514.0,459.72 516.0,462.96 518.0,466.15 520.0,469.31 522.0,472.41 524.0,475.47 526.0,478.48 528.0,481.45 530.0,484.37 532.0,487.24 534.0,490.06 536.0,492.83 538.0,495.55 540.0,498.22 542.0,500.85 544.0,503.42 546.0,505.94 548.0,508.41 550.0,510.83 552.0,513.20 554.0,515.52 556.0,517.79 558.0,520.01 560.0,522.18 562.0,524.31 564.0,526.38 566.0,528.40 568.0,530.37 570.0,532.30 572.0,534.17 574.0,536.00 576.0,537.79 578.0,539.52 580.0,541.21 582.0,542.86 584.0,544.46 586.0,546.02 588.0,547.53 590.0,549.00 592.0,550.43 594.0,551.81 596.0,553.16 598.0,554.46 600.0,555.73 602.0,556.96 604.0,558.14 606.0,559.30 608.0,560.41 610.0,561.49 612.0,562.53 614.0,563.54 616.0,564.52 618.0,565.46 620.0,566.38 622.0,567.26 624.0,568.11 626.0,568.93 628.0,569.72 630.0,570.48 632.0,571.22 634.0,571.92 636.0,572.61 638.0,573.26 640.0,573.90 642.0,574.50 644.0,575.09 646.0,575.65 648.0,576.19 650.0,576.71 652.0,577.21 654.0,577.69 656.0,578.15 658.0,578.59 660.0,579.01 662.0,579.42 664.0,579.81 666.0,580.18 668.0,580.54 670.0,580.88 672.0,581.20 674.0,581.52 676.0,581.81 678.0,582.10 680.0,582.37 682.0,582.63 684.0,582.88 686.0,583.12 688.0,583.35 690.0,583.56 692.0,583.77 694.0,583.96 696.0,584.15 698.0,584.33 700.0,584.50 702.0,584.66 704.0,584.81 706.0,584.96 708.0,585.10 710.0,585.23 712.0,585.36 714.0,585.48 716.0,585.59 718.0,585.70 720.0,585.80 722.0,585.90 724.0,585.99 726.0,586.07 728.0,586.16 730.0,586.23 732.0,586.31 734.0,586.38 736.0,586.44 738.0,586.51 740.0,586.57 742.0,586.62 744.0,586.67 746.0,586.72 748.0,586.77 750.0,586.82 752.0,586.86 754.0,586.90 756.0,586.93 758.0,586.97 760.0,587.00 762.0,587.03 764.0,587.06 766.0,587.09 768.0,587.12 770.0,587.14 772.0,587.17 774.0,587.19 776.0,587.21 778.0,587.23 780.0,587.24 782.0,587.26 784.0,587.28 786.0,587.29 788.0,587.31 790.0,587.32 792.0,587.33 794.0,587.34 796.0,587.35 798.0,587.36 800.0,587.37 802.0,587.38 804.0,587.39 806.0,587.40 808.0,587.40 810.0,587.41 812.0,587.42 814.0,587.42 816.0,587.43 818.0,587.43 820.0,587.44 822.0,587.44 824.0,587.45 826.0,587.45 828.0,587.45 830.0,587.46 832.0,587.46 834.0,587.46 836.0,587.47 838.0,587.47 840.0,587.47 842.0,587.47 844.0,587.48 846.0,587.48 848.0,587.48 850.0,587.48 852.0,587.48 854.0,587.48 856.0,587.48 858.0,587.49 860.0,587.49 862.0,587.49 864.0,587.49 866.0,587.49 868.0,587.49 870.0,587.49 872.0,587.49 874.0,587.49 876.0,587.49 878.0,587.49 880.0,587.49 882.0,587.49 884.0,587.50 886.0,587.50 888.0,587.50 890.0,587.50 892.0,587.50 894.0,587.50 896.0,587.50 898.0,587.50 900.0,587.50 902.0,587.50 904.0,587.50 906.0,587.50 908.0,587.50 910.0,587.50 912.0,587.50 914.0,587.50 916.0,587.50 918.0,587.50 920.0,587.50 922.0,587.50 924.0,587.50 926.0,587.50 928.0,587.50 930.0,587.50 932.0,587.50 934.0,587.50 936.0,587.50 938.0,587.50 940.0,587.50 942.0,587.50 944.0,587.50 946.0,587.50 948.0,587.50 950.0,587.50 952.0,587.50 954.0,587.50 956.0,587.50 958.0,587.50 960.0,587.50 962.0,587.50 964.0,587.50 966.0,587.50 968.0,587.50 970.0,587.50 972.0,587.50 974.0,587.50 976.0,587.50 978.0,587.50 980.0,587.50 982.0,587.50 984.0,587.50 986.0,587.50 988.0,587.50 990.0,587.50 992.0,587.50 994.0,587.50 996.0,587.50 998.0,587.50 1000.0,587.50 1002.0,587.50"/>
<polyline fill="none" stroke="#6C7F93" stroke-width="1.4" stroke-linejoin="round" points="-4.0,587.50 -2.0,587.50 0.0,587.50 2.0,587.50 4.0,587.50 6.0,587.50 8.0,587.50 10.0,587.50 12.0,587.50 14.0,587.50 16.0,587.50 18.0,587.50 20.0,587.50 22.0,587.50 24.0,587.50 26.0,587.50 28.0,587.50 30.0,587.50 32.0,587.50 34.0,587.50 36.0,587.50 38.0,587.50 40.0,587.50 42.0,587.50 44.0,587.50 46.0,587.50 48.0,587.50 50.0,587.50 52.0,587.50 54.0,587.50 56.0,587.50 58.0,587.50 60.0,587.50 62.0,587.50 64.0,587.50 66.0,587.50 68.0,587.50 70.0,587.50 72.0,587.50 74.0,587.50 76.0,587.50 78.0,587.50 80.0,587.50 82.0,587.50 84.0,587.50 86.0,587.50 88.0,587.50 90.0,587.50 92.0,587.50 94.0,587.50 96.0,587.50 98.0,587.50 100.0,587.50 102.0,587.50 104.0,587.50 106.0,587.50 108.0,587.50 110.0,587.50 112.0,587.50 114.0,587.50 116.0,587.50 118.0,587.50 120.0,587.50 122.0,587.50 124.0,587.50 126.0,587.50 128.0,587.50 130.0,587.50 132.0,587.50 134.0,587.50 136.0,587.50 138.0,587.50 140.0,587.50 142.0,587.50 144.0,587.50 146.0,587.50 148.0,587.50 150.0,587.50 152.0,587.50 154.0,587.50 156.0,587.50 158.0,587.50 160.0,587.50 162.0,587.50 164.0,587.50 166.0,587.50 168.0,587.50 170.0,587.50 172.0,587.50 174.0,587.50 176.0,587.50 178.0,587.50 180.0,587.50 182.0,587.50 184.0,587.50 186.0,587.50 188.0,587.50 190.0,587.50 192.0,587.50 194.0,587.50 196.0,587.49 198.0,587.49 200.0,587.49 202.0,587.49 204.0,587.49 206.0,587.49 208.0,587.49 210.0,587.49 212.0,587.49 214.0,587.49 216.0,587.49 218.0,587.48 220.0,587.48 222.0,587.48 224.0,587.48 226.0,587.48 228.0,587.47 230.0,587.47 232.0,587.47 234.0,587.46 236.0,587.46 238.0,587.46 240.0,587.45 242.0,587.45 244.0,587.44 246.0,587.44 248.0,587.43 250.0,587.42 252.0,587.42 254.0,587.41 256.0,587.40 258.0,587.39 260.0,587.38 262.0,587.37 264.0,587.36 266.0,587.34 268.0,587.33 270.0,587.31 272.0,587.29 274.0,587.28 276.0,587.25 278.0,587.23 280.0,587.21 282.0,587.18 284.0,587.15 286.0,587.12 288.0,587.09 290.0,587.06 292.0,587.02 294.0,586.98 296.0,586.93 298.0,586.88 300.0,586.83 302.0,586.77 304.0,586.71 306.0,586.65 308.0,586.58 310.0,586.50 312.0,586.42 314.0,586.34 316.0,586.24 318.0,586.14 320.0,586.04 322.0,585.92 324.0,585.80 326.0,585.67 328.0,585.53 330.0,585.38 332.0,585.21 334.0,585.04 336.0,584.86 338.0,584.66 340.0,584.46 342.0,584.23 344.0,584.00 346.0,583.75 348.0,583.48 350.0,583.19 352.0,582.89 354.0,582.57 356.0,582.23 358.0,581.86 360.0,581.48 362.0,581.07 364.0,580.64 366.0,580.18 368.0,579.70 370.0,579.19 372.0,578.65 374.0,578.08 376.0,577.48 378.0,576.85 380.0,576.18 382.0,575.47 384.0,574.73 386.0,573.95 388.0,573.12 390.0,572.26 392.0,571.35 394.0,570.40 396.0,569.39 398.0,568.34 400.0,567.24 402.0,566.09 404.0,564.88 406.0,563.62 408.0,562.29 410.0,560.91 412.0,559.47 414.0,557.96 416.0,556.39 418.0,554.74 420.0,553.03 422.0,551.25 424.0,549.40 426.0,547.47 428.0,545.47 430.0,543.38 432.0,541.22 434.0,538.97 436.0,536.64 438.0,534.23 440.0,531.73 442.0,529.14 444.0,526.46 446.0,523.69 448.0,520.83 450.0,517.88 452.0,514.83 454.0,511.69 456.0,508.44 458.0,505.11 460.0,501.67 462.0,498.14 464.0,494.50 466.0,490.77 468.0,486.94 470.0,483.01 472.0,478.98 474.0,474.85 476.0,470.62 478.0,466.29 480.0,461.87 482.0,457.35 484.0,452.74 486.0,448.03 488.0,443.23 490.0,438.34 492.0,433.37 494.0,428.30 496.0,423.15 498.0,417.92 500.0,412.62 502.0,407.23 504.0,401.77 506.0,396.25 508.0,390.66 510.0,385.00 512.0,379.29 514.0,373.53 516.0,367.71 518.0,361.85 520.0,355.96 522.0,350.02 524.0,344.06 526.0,338.07 528.0,332.06 530.0,326.04 532.0,320.01 534.0,313.98 536.0,307.95 538.0,301.94 540.0,295.94 542.0,289.96 544.0,284.01 546.0,278.10 548.0,272.24 550.0,266.42 552.0,260.66 554.0,254.96 556.0,249.34 558.0,243.79 560.0,238.32 562.0,232.95 564.0,227.67 566.0,222.50 568.0,217.44 570.0,212.50 572.0,207.68 574.0,202.99 576.0,198.44 578.0,194.04 580.0,189.78 582.0,185.68 584.0,181.74 586.0,177.97 588.0,174.37 590.0,170.94 592.0,167.70 594.0,164.65 596.0,161.79 598.0,159.12 600.0,156.65 602.0,154.39 604.0,152.33 606.0,150.48 608.0,148.85 610.0,147.42 612.0,146.22 614.0,145.23 616.0,144.47 618.0,143.92 620.0,143.60 622.0,143.50 624.0,143.62 626.0,143.97 628.0,144.53 630.0,145.32 632.0,146.33 634.0,147.56 636.0,149.00 638.0,150.66 640.0,152.53 642.0,154.61 644.0,156.89 646.0,159.38 648.0,162.06 650.0,164.95 652.0,168.02 654.0,171.28 656.0,174.72 658.0,178.34 660.0,182.13 662.0,186.08 664.0,190.20 666.0,194.47 668.0,198.89 670.0,203.45 672.0,208.15 674.0,212.99 676.0,217.94 678.0,223.01 680.0,228.19 682.0,233.48 684.0,238.86 686.0,244.34 688.0,249.90 690.0,255.53 692.0,261.23 694.0,267.00 696.0,272.82 698.0,278.69 700.0,284.61 702.0,290.56 704.0,296.54 706.0,302.54 708.0,308.55 710.0,314.58 712.0,320.61 714.0,326.64 716.0,332.66 718.0,338.67 720.0,344.65 722.0,350.62 724.0,356.55 726.0,362.44 728.0,368.30 730.0,374.11 732.0,379.87 734.0,385.57 736.0,391.22 738.0,396.80 740.0,402.32 742.0,407.77 744.0,413.15 746.0,418.45 748.0,423.67 750.0,428.81 752.0,433.87 754.0,438.84 756.0,443.72 758.0,448.51 760.0,453.21 762.0,457.81 764.0,462.32 766.0,466.73 768.0,471.05 770.0,475.27 772.0,479.39 774.0,483.41 776.0,487.33 778.0,491.15 780.0,494.87 782.0,498.49 784.0,502.02 786.0,505.44 788.0,508.77 790.0,512.00 792.0,515.14 794.0,518.18 796.0,521.12 798.0,523.98 800.0,526.74 802.0,529.40 804.0,531.98 806.0,534.48 808.0,536.88 810.0,539.20 812.0,541.44 814.0,543.59 816.0,545.67 818.0,547.67 820.0,549.59 822.0,551.44 824.0,553.21 826.0,554.91 828.0,556.55 830.0,558.11 832.0,559.61 834.0,561.05 836.0,562.43 838.0,563.75 840.0,565.00 842.0,566.21 844.0,567.36 846.0,568.45 848.0,569.50 850.0,570.49 852.0,571.44 854.0,572.35 856.0,573.21 858.0,574.03 860.0,574.80 862.0,575.54 864.0,576.24 866.0,576.91 868.0,577.54 870.0,578.14 872.0,578.71 874.0,579.24 876.0,579.75 878.0,580.23 880.0,580.69 882.0,581.11 884.0,581.52 886.0,581.90 888.0,582.26 890.0,582.60 892.0,582.92 894.0,583.22 896.0,583.50 898.0,583.77 900.0,584.02 902.0,584.26 904.0,584.48 906.0,584.68 908.0,584.88 910.0,585.06 912.0,585.23 914.0,585.39 916.0,585.54 918.0,585.68 920.0,585.81 922.0,585.93 924.0,586.05 926.0,586.15 928.0,586.25 930.0,586.35 932.0,586.43 934.0,586.51 936.0,586.59 938.0,586.66 940.0,586.72 942.0,586.78 944.0,586.84 946.0,586.89 948.0,586.94 950.0,586.98 952.0,587.02 954.0,587.06 956.0,587.09 958.0,587.13 960.0,587.16 962.0,587.19 964.0,587.21 966.0,587.24 968.0,587.26 970.0,587.28 972.0,587.30 974.0,587.31 976.0,587.33 978.0,587.34 980.0,587.36 982.0,587.37 984.0,587.38 986.0,587.39 988.0,587.40 990.0,587.41 992.0,587.42 994.0,587.42 996.0,587.43 998.0,587.44 1000.0,587.44 1002.0,587.45"/>
<polyline fill="none" stroke="#6C7F93" stroke-width="1.4" stroke-linejoin="round" points="-4.0,587.50 -2.0,587.50 0.0,587.50 2.0,587.50 4.0,587.50 6.0,587.50 8.0,587.50 10.0,587.50 12.0,587.50 14.0,587.50 16.0,587.50 18.0,587.50 20.0,587.50 22.0,587.50 24.0,587.50 26.0,587.50 28.0,587.50 30.0,587.50 32.0,587.50 34.0,587.50 36.0,587.50 38.0,587.50 40.0,587.50 42.0,587.50 44.0,587.50 46.0,587.50 48.0,587.50 50.0,587.50 52.0,587.50 54.0,587.50 56.0,587.50 58.0,587.50 60.0,587.50 62.0,587.50 64.0,587.50 66.0,587.50 68.0,587.50 70.0,587.50 72.0,587.50 74.0,587.50 76.0,587.50 78.0,587.50 80.0,587.50 82.0,587.50 84.0,587.50 86.0,587.50 88.0,587.50 90.0,587.50 92.0,587.50 94.0,587.50 96.0,587.50 98.0,587.50 100.0,587.50 102.0,587.50 104.0,587.50 106.0,587.50 108.0,587.50 110.0,587.50 112.0,587.50 114.0,587.50 116.0,587.50 118.0,587.50 120.0,587.50 122.0,587.50 124.0,587.50 126.0,587.50 128.0,587.50 130.0,587.50 132.0,587.50 134.0,587.50 136.0,587.50 138.0,587.50 140.0,587.50 142.0,587.50 144.0,587.50 146.0,587.50 148.0,587.50 150.0,587.50 152.0,587.50 154.0,587.50 156.0,587.50 158.0,587.50 160.0,587.50 162.0,587.50 164.0,587.50 166.0,587.50 168.0,587.50 170.0,587.50 172.0,587.50 174.0,587.50 176.0,587.50 178.0,587.50 180.0,587.50 182.0,587.50 184.0,587.49 186.0,587.49 188.0,587.49 190.0,587.49 192.0,587.49 194.0,587.49 196.0,587.49 198.0,587.49 200.0,587.48 202.0,587.48 204.0,587.48 206.0,587.48 208.0,587.47 210.0,587.47 212.0,587.46 214.0,587.46 216.0,587.45 218.0,587.45 220.0,587.44 222.0,587.43 224.0,587.43 226.0,587.42 228.0,587.40 230.0,587.39 232.0,587.38 234.0,587.36 236.0,587.35 238.0,587.33 240.0,587.31 242.0,587.28 244.0,587.26 246.0,587.23 248.0,587.20 250.0,587.16 252.0,587.12 254.0,587.08 256.0,587.03 258.0,586.97 260.0,586.91 262.0,586.85 264.0,586.77 266.0,586.69 268.0,586.60 270.0,586.51 272.0,586.40 274.0,586.28 276.0,586.15 278.0,586.01 280.0,585.85 282.0,585.68 284.0,585.50 286.0,585.29 288.0,585.07 290.0,584.83 292.0,584.56 294.0,584.28 296.0,583.97 298.0,583.63 300.0,583.26 302.0,582.86 304.0,582.42 306.0,581.96 308.0,581.45 310.0,580.90 312.0,580.31 314.0,579.67 316.0,578.98 318.0,578.24 320.0,577.44 322.0,576.59 324.0,575.67 326.0,574.68 328.0,573.63 330.0,572.50 332.0,571.29 334.0,570.00 336.0,568.62 338.0,567.15 340.0,565.58 342.0,563.91 344.0,562.14 346.0,560.25 348.0,558.25 350.0,556.13 352.0,553.88 354.0,551.51 356.0,548.99 358.0,546.34 360.0,543.54 362.0,540.59 364.0,537.48 366.0,534.21 368.0,530.77 370.0,527.17 372.0,523.39 374.0,519.42 376.0,515.27 378.0,510.94 380.0,506.41 382.0,501.68 384.0,496.76 386.0,491.63 388.0,486.30 390.0,480.76 392.0,475.01 394.0,469.05 396.0,462.88 398.0,456.50 400.0,449.90 402.0,443.10 404.0,436.08 406.0,428.86 408.0,421.43 410.0,413.79 412.0,405.96 414.0,397.93 416.0,389.72 418.0,381.31 420.0,372.74 422.0,363.99 424.0,355.08 426.0,346.01 428.0,336.81 430.0,327.46 432.0,318.00 434.0,308.42 436.0,298.75 438.0,288.99 440.0,279.15 442.0,269.26 444.0,259.33 446.0,249.37 448.0,239.39 450.0,229.42 452.0,219.48 454.0,209.57 456.0,199.72 458.0,189.95 460.0,180.27 462.0,170.70 464.0,161.26 466.0,151.98 468.0,142.86 470.0,133.93 472.0,125.21 474.0,116.72 476.0,108.47 478.0,100.48 480.0,92.77 482.0,85.36 484.0,78.26 486.0,71.50 488.0,65.08 490.0,59.02 492.0,53.34 494.0,48.05 496.0,43.16 498.0,38.69 500.0,34.64 502.0,31.02 504.0,27.85 506.0,25.14 508.0,22.88 510.0,21.08 512.0,19.76 514.0,18.90 516.0,18.52 518.0,18.62 520.0,19.19 522.0,20.23 524.0,21.74 526.0,23.73 528.0,26.17 530.0,29.07 532.0,32.42 534.0,36.21 536.0,40.43 538.0,45.07 540.0,50.12 542.0,55.57 544.0,61.40 546.0,67.60 548.0,74.16 550.0,81.06 552.0,88.29 554.0,95.82 556.0,103.64 558.0,111.74 560.0,120.09 562.0,128.68 564.0,137.48 566.0,146.49 568.0,155.67 570.0,165.02 572.0,174.51 574.0,184.13 576.0,193.85 578.0,203.65 580.0,213.53 582.0,223.45 584.0,233.41 586.0,243.38 588.0,253.35 590.0,263.31 592.0,273.22 594.0,283.09 596.0,292.90 598.0,302.63 600.0,312.27 602.0,321.80 604.0,331.22 606.0,340.51 608.0,349.66 610.0,358.66 612.0,367.51 614.0,376.19 616.0,384.70 618.0,393.03 620.0,401.17 622.0,409.12 624.0,416.87 626.0,424.42 628.0,431.77 630.0,438.91 632.0,445.85 634.0,452.57 636.0,459.08 638.0,465.38 640.0,471.46 642.0,477.34 644.0,483.00 646.0,488.46 648.0,493.71 650.0,498.75 652.0,503.60 654.0,508.24 656.0,512.70 658.0,516.96 660.0,521.03 662.0,524.92 664.0,528.63 666.0,532.17 668.0,535.54 670.0,538.74 672.0,541.79 674.0,544.68 676.0,547.42 678.0,550.02 680.0,552.47 682.0,554.80 684.0,556.99 686.0,559.07 688.0,561.02 690.0,562.86 692.0,564.59 694.0,566.22 696.0,567.75 698.0,569.18 700.0,570.52 702.0,571.78 704.0,572.96 706.0,574.06 708.0,575.09 710.0,576.04 712.0,576.94 714.0,577.77 716.0,578.54 718.0,579.26 720.0,579.93 722.0,580.55 724.0,581.12 726.0,581.66 728.0,582.15 730.0,582.60 732.0,583.02 734.0,583.41 736.0,583.76 738.0,584.09 740.0,584.40 742.0,584.67 744.0,584.93 746.0,585.16 748.0,585.38 750.0,585.57 752.0,585.75 754.0,585.92 756.0,586.07 758.0,586.20 760.0,586.33 762.0,586.44 764.0,586.55 766.0,586.64 768.0,586.73 770.0,586.80 772.0,586.87 774.0,586.94 776.0,586.99 778.0,587.05 780.0,587.09 782.0,587.14 784.0,587.17 786.0,587.21 788.0,587.24 790.0,587.27 792.0,587.29 794.0,587.32 796.0,587.34 798.0,587.35 800.0,587.37 802.0,587.38 804.0,587.40 806.0,587.41 808.0,587.42 810.0,587.43 812.0,587.44 814.0,587.44 816.0,587.45 818.0,587.46 820.0,587.46 822.0,587.47 824.0,587.47 826.0,587.47 828.0,587.48 830.0,587.48 832.0,587.48 834.0,587.48 836.0,587.49 838.0,587.49 840.0,587.49 842.0,587.49 844.0,587.49 846.0,587.49 848.0,587.49 850.0,587.49 852.0,587.50 854.0,587.50 856.0,587.50 858.0,587.50 860.0,587.50 862.0,587.50 864.0,587.50 866.0,587.50 868.0,587.50 870.0,587.50 872.0,587.50 874.0,587.50 876.0,587.50 878.0,587.50 880.0,587.50 882.0,587.50 884.0,587.50 886.0,587.50 888.0,587.50 890.0,587.50 892.0,587.50 894.0,587.50 896.0,587.50 898.0,587.50 900.0,587.50 902.0,587.50 904.0,587.50 906.0,587.50 908.0,587.50 910.0,587.50 912.0,587.50 914.0,587.50 916.0,587.50 918.0,587.50 920.0,587.50 922.0,587.50 924.0,587.50 926.0,587.50 928.0,587.50 930.0,587.50 932.0,587.50 934.0,587.50 936.0,587.50 938.0,587.50 940.0,587.50 942.0,587.50 944.0,587.50 946.0,587.50 948.0,587.50 950.0,587.50 952.0,587.50 954.0,587.50 956.0,587.50 958.0,587.50 960.0,587.50 962.0,587.50 964.0,587.50 966.0,587.50 968.0,587.50 970.0,587.50 972.0,587.50 974.0,587.50 976.0,587.50 978.0,587.50 980.0,587.50 982.0,587.50 984.0,587.50 986.0,587.50 988.0,587.50 990.0,587.50 992.0,587.50 994.0,587.50 996.0,587.50 998.0,587.50 1000.0,587.50 1002.0,587.50"/>
<defs><linearGradient id="bl" x1="0" x2="1" y1="0" y2="0"><stop offset="0" stop-color="#76889A"/><stop offset="1" stop-color="#5A76A6"/></linearGradient></defs>
<rect x="0" y="586" width="998" height="2.7" fill="url(#bl)"/>
<text font-family="Liberation Sans, Arial, Helvetica, sans-serif" font-weight="700" font-size="36" stroke-width="0.8" stroke-linejoin="round" x="313.6" y="98.7" fill="#F714EC" stroke="#F714EC">Optimum</text>
<text font-family="Liberation Sans, Arial, Helvetica, sans-serif" font-weight="700" font-size="36" stroke-width="0.8" stroke-linejoin="round" x="59.2" y="376.9" fill="#0C0CDE" stroke="#0C0CDE">Prediction</text>
<text font-family="Liberation Sans, Arial, Helvetica, sans-serif" font-weight="700" font-size="36" stroke-width="0.8" stroke-linejoin="round" x="698.2" y="265.6" fill="#EA0808" stroke="#EA0808">Observation</text>
</svg>
</body></html>
